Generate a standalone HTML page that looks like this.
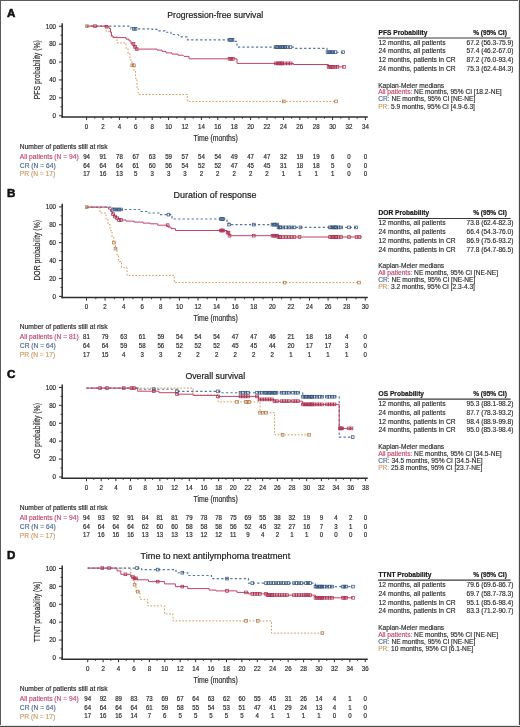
<!DOCTYPE html><html><head><meta charset="utf-8"><style>html,body{margin:0;padding:0;background:#fff;}svg{display:block;will-change:transform;}text{font-family:"Liberation Sans",sans-serif;}</style></head><body>
<svg width="520" height="727" viewBox="0 0 520 727">
<rect x="0" y="0" width="520" height="727" fill="#fff"/>
<text x="6.90" y="16.50" font-size="11.6" fill="#111" font-weight="bold" stroke="#111" stroke-width="0.55">A</text>
<text x="167.30" y="17.60" font-size="8.9" fill="#222" textLength="95.89999999999998" lengthAdjust="spacingAndGlyphs" stroke="#222" stroke-width="0.2">Progression-free survival</text>
<g stroke="#2e2e2e" fill="none">
<line x1="62.2" y1="23.2" x2="62.2" y2="117.75" stroke-width="1.5"/>
<line x1="61.45" y1="117.0" x2="367.8" y2="117.0" stroke-width="1.5"/>
<line x1="59" y1="115.75" x2="62.2" y2="115.75" stroke-width="1"/>
<line x1="60.5" y1="106.80" x2="62.2" y2="106.80" stroke-width="0.9"/>
<line x1="59" y1="97.85" x2="62.2" y2="97.85" stroke-width="1"/>
<line x1="60.5" y1="88.90" x2="62.2" y2="88.90" stroke-width="0.9"/>
<line x1="59" y1="79.95" x2="62.2" y2="79.95" stroke-width="1"/>
<line x1="60.5" y1="71.00" x2="62.2" y2="71.00" stroke-width="0.9"/>
<line x1="59" y1="62.05" x2="62.2" y2="62.05" stroke-width="1"/>
<line x1="60.5" y1="53.10" x2="62.2" y2="53.10" stroke-width="0.9"/>
<line x1="59" y1="44.15" x2="62.2" y2="44.15" stroke-width="1"/>
<line x1="60.5" y1="35.20" x2="62.2" y2="35.20" stroke-width="0.9"/>
<line x1="59" y1="26.25" x2="62.2" y2="26.25" stroke-width="1"/>
<line x1="86.60" y1="117.0" x2="86.60" y2="120.0" stroke-width="1"/>
<line x1="94.80" y1="117.0" x2="94.80" y2="118.7" stroke-width="0.9"/>
<line x1="103.00" y1="117.0" x2="103.00" y2="120.0" stroke-width="1"/>
<line x1="111.20" y1="117.0" x2="111.20" y2="118.7" stroke-width="0.9"/>
<line x1="119.40" y1="117.0" x2="119.40" y2="120.0" stroke-width="1"/>
<line x1="127.60" y1="117.0" x2="127.60" y2="118.7" stroke-width="0.9"/>
<line x1="135.80" y1="117.0" x2="135.80" y2="120.0" stroke-width="1"/>
<line x1="144.00" y1="117.0" x2="144.00" y2="118.7" stroke-width="0.9"/>
<line x1="152.20" y1="117.0" x2="152.20" y2="120.0" stroke-width="1"/>
<line x1="160.40" y1="117.0" x2="160.40" y2="118.7" stroke-width="0.9"/>
<line x1="168.60" y1="117.0" x2="168.60" y2="120.0" stroke-width="1"/>
<line x1="176.80" y1="117.0" x2="176.80" y2="118.7" stroke-width="0.9"/>
<line x1="185.00" y1="117.0" x2="185.00" y2="120.0" stroke-width="1"/>
<line x1="193.20" y1="117.0" x2="193.20" y2="118.7" stroke-width="0.9"/>
<line x1="201.40" y1="117.0" x2="201.40" y2="120.0" stroke-width="1"/>
<line x1="209.60" y1="117.0" x2="209.60" y2="118.7" stroke-width="0.9"/>
<line x1="217.80" y1="117.0" x2="217.80" y2="120.0" stroke-width="1"/>
<line x1="226.00" y1="117.0" x2="226.00" y2="118.7" stroke-width="0.9"/>
<line x1="234.20" y1="117.0" x2="234.20" y2="120.0" stroke-width="1"/>
<line x1="242.40" y1="117.0" x2="242.40" y2="118.7" stroke-width="0.9"/>
<line x1="250.60" y1="117.0" x2="250.60" y2="120.0" stroke-width="1"/>
<line x1="258.80" y1="117.0" x2="258.80" y2="118.7" stroke-width="0.9"/>
<line x1="267.00" y1="117.0" x2="267.00" y2="120.0" stroke-width="1"/>
<line x1="275.20" y1="117.0" x2="275.20" y2="118.7" stroke-width="0.9"/>
<line x1="283.40" y1="117.0" x2="283.40" y2="120.0" stroke-width="1"/>
<line x1="291.60" y1="117.0" x2="291.60" y2="118.7" stroke-width="0.9"/>
<line x1="299.80" y1="117.0" x2="299.80" y2="120.0" stroke-width="1"/>
<line x1="308.00" y1="117.0" x2="308.00" y2="118.7" stroke-width="0.9"/>
<line x1="316.20" y1="117.0" x2="316.20" y2="120.0" stroke-width="1"/>
<line x1="324.40" y1="117.0" x2="324.40" y2="118.7" stroke-width="0.9"/>
<line x1="332.60" y1="117.0" x2="332.60" y2="120.0" stroke-width="1"/>
<line x1="340.80" y1="117.0" x2="340.80" y2="118.7" stroke-width="0.9"/>
<line x1="349.00" y1="117.0" x2="349.00" y2="120.0" stroke-width="1"/>
<line x1="357.20" y1="117.0" x2="357.20" y2="118.7" stroke-width="0.9"/>
<line x1="365.40" y1="117.0" x2="365.40" y2="120.0" stroke-width="1"/>
</g>
<text x="56.00" y="118.05" font-size="6.5" fill="#2b2b2b" text-anchor="end" stroke="#2b2b2b" stroke-width="0.18" transform="translate(56.00,0) scale(0.95,1) translate(-56.00,0)">0</text>
<text x="56.00" y="100.15" font-size="6.5" fill="#2b2b2b" text-anchor="end" stroke="#2b2b2b" stroke-width="0.18" transform="translate(56.00,0) scale(0.95,1) translate(-56.00,0)">20</text>
<text x="56.00" y="82.25" font-size="6.5" fill="#2b2b2b" text-anchor="end" stroke="#2b2b2b" stroke-width="0.18" transform="translate(56.00,0) scale(0.95,1) translate(-56.00,0)">40</text>
<text x="56.00" y="64.35" font-size="6.5" fill="#2b2b2b" text-anchor="end" stroke="#2b2b2b" stroke-width="0.18" transform="translate(56.00,0) scale(0.95,1) translate(-56.00,0)">60</text>
<text x="56.00" y="46.45" font-size="6.5" fill="#2b2b2b" text-anchor="end" stroke="#2b2b2b" stroke-width="0.18" transform="translate(56.00,0) scale(0.95,1) translate(-56.00,0)">80</text>
<text x="56.00" y="28.55" font-size="6.5" fill="#2b2b2b" text-anchor="end" stroke="#2b2b2b" stroke-width="0.18" transform="translate(56.00,0) scale(0.95,1) translate(-56.00,0)">100</text>
<text x="86.60" y="128.80" font-size="6.5" fill="#2b2b2b" text-anchor="middle" stroke="#2b2b2b" stroke-width="0.18" transform="translate(86.60,0) scale(0.95,1) translate(-86.60,0)">0</text>
<text x="103.00" y="128.80" font-size="6.5" fill="#2b2b2b" text-anchor="middle" stroke="#2b2b2b" stroke-width="0.18" transform="translate(103.00,0) scale(0.95,1) translate(-103.00,0)">2</text>
<text x="119.40" y="128.80" font-size="6.5" fill="#2b2b2b" text-anchor="middle" stroke="#2b2b2b" stroke-width="0.18" transform="translate(119.40,0) scale(0.95,1) translate(-119.40,0)">4</text>
<text x="135.80" y="128.80" font-size="6.5" fill="#2b2b2b" text-anchor="middle" stroke="#2b2b2b" stroke-width="0.18" transform="translate(135.80,0) scale(0.95,1) translate(-135.80,0)">6</text>
<text x="152.20" y="128.80" font-size="6.5" fill="#2b2b2b" text-anchor="middle" stroke="#2b2b2b" stroke-width="0.18" transform="translate(152.20,0) scale(0.95,1) translate(-152.20,0)">8</text>
<text x="168.60" y="128.80" font-size="6.5" fill="#2b2b2b" text-anchor="middle" stroke="#2b2b2b" stroke-width="0.18" transform="translate(168.60,0) scale(0.95,1) translate(-168.60,0)">10</text>
<text x="185.00" y="128.80" font-size="6.5" fill="#2b2b2b" text-anchor="middle" stroke="#2b2b2b" stroke-width="0.18" transform="translate(185.00,0) scale(0.95,1) translate(-185.00,0)">12</text>
<text x="201.40" y="128.80" font-size="6.5" fill="#2b2b2b" text-anchor="middle" stroke="#2b2b2b" stroke-width="0.18" transform="translate(201.40,0) scale(0.95,1) translate(-201.40,0)">14</text>
<text x="217.80" y="128.80" font-size="6.5" fill="#2b2b2b" text-anchor="middle" stroke="#2b2b2b" stroke-width="0.18" transform="translate(217.80,0) scale(0.95,1) translate(-217.80,0)">16</text>
<text x="234.20" y="128.80" font-size="6.5" fill="#2b2b2b" text-anchor="middle" stroke="#2b2b2b" stroke-width="0.18" transform="translate(234.20,0) scale(0.95,1) translate(-234.20,0)">18</text>
<text x="250.60" y="128.80" font-size="6.5" fill="#2b2b2b" text-anchor="middle" stroke="#2b2b2b" stroke-width="0.18" transform="translate(250.60,0) scale(0.95,1) translate(-250.60,0)">20</text>
<text x="267.00" y="128.80" font-size="6.5" fill="#2b2b2b" text-anchor="middle" stroke="#2b2b2b" stroke-width="0.18" transform="translate(267.00,0) scale(0.95,1) translate(-267.00,0)">22</text>
<text x="283.40" y="128.80" font-size="6.5" fill="#2b2b2b" text-anchor="middle" stroke="#2b2b2b" stroke-width="0.18" transform="translate(283.40,0) scale(0.95,1) translate(-283.40,0)">24</text>
<text x="299.80" y="128.80" font-size="6.5" fill="#2b2b2b" text-anchor="middle" stroke="#2b2b2b" stroke-width="0.18" transform="translate(299.80,0) scale(0.95,1) translate(-299.80,0)">26</text>
<text x="316.20" y="128.80" font-size="6.5" fill="#2b2b2b" text-anchor="middle" stroke="#2b2b2b" stroke-width="0.18" transform="translate(316.20,0) scale(0.95,1) translate(-316.20,0)">28</text>
<text x="332.60" y="128.80" font-size="6.5" fill="#2b2b2b" text-anchor="middle" stroke="#2b2b2b" stroke-width="0.18" transform="translate(332.60,0) scale(0.95,1) translate(-332.60,0)">30</text>
<text x="349.00" y="128.80" font-size="6.5" fill="#2b2b2b" text-anchor="middle" stroke="#2b2b2b" stroke-width="0.18" transform="translate(349.00,0) scale(0.95,1) translate(-349.00,0)">32</text>
<text x="365.40" y="128.80" font-size="6.5" fill="#2b2b2b" text-anchor="middle" stroke="#2b2b2b" stroke-width="0.18" transform="translate(365.40,0) scale(0.95,1) translate(-365.40,0)">34</text>
<text x="-29.50" y="0" font-size="9.0" fill="#2b2b2b" stroke="#2b2b2b" stroke-width="0.18" textLength="59.0" lengthAdjust="spacingAndGlyphs" transform="translate(39.6,69.70) rotate(-90)">PFS probability (%)</text>
<text x="193.50" y="140.70" font-size="8.2" fill="#2b2b2b" textLength="44.2" lengthAdjust="spacingAndGlyphs" stroke="#2b2b2b" stroke-width="0.18">Time (months)</text>
<text x="19.80" y="148.80" font-size="6.7" fill="#2b2b2b" stroke="#2b2b2b" stroke-width="0.18">Number of patients still at risk</text>
<text x="19.80" y="158.80" font-size="6.7" fill="#c64469" stroke="#c64469" stroke-width="0.15">All patients (N = 94)</text>
<text x="86.60" y="158.80" font-size="6.8" fill="#2b2b2b" text-anchor="middle" stroke="#2b2b2b" stroke-width="0.2" transform="translate(86.60,0) scale(0.9,1) translate(-86.60,0)">94</text>
<text x="103.00" y="158.80" font-size="6.8" fill="#2b2b2b" text-anchor="middle" stroke="#2b2b2b" stroke-width="0.2" transform="translate(103.00,0) scale(0.9,1) translate(-103.00,0)">91</text>
<text x="119.40" y="158.80" font-size="6.8" fill="#2b2b2b" text-anchor="middle" stroke="#2b2b2b" stroke-width="0.2" transform="translate(119.40,0) scale(0.9,1) translate(-119.40,0)">78</text>
<text x="135.80" y="158.80" font-size="6.8" fill="#2b2b2b" text-anchor="middle" stroke="#2b2b2b" stroke-width="0.2" transform="translate(135.80,0) scale(0.9,1) translate(-135.80,0)">67</text>
<text x="152.20" y="158.80" font-size="6.8" fill="#2b2b2b" text-anchor="middle" stroke="#2b2b2b" stroke-width="0.2" transform="translate(152.20,0) scale(0.9,1) translate(-152.20,0)">63</text>
<text x="168.60" y="158.80" font-size="6.8" fill="#2b2b2b" text-anchor="middle" stroke="#2b2b2b" stroke-width="0.2" transform="translate(168.60,0) scale(0.9,1) translate(-168.60,0)">59</text>
<text x="185.00" y="158.80" font-size="6.8" fill="#2b2b2b" text-anchor="middle" stroke="#2b2b2b" stroke-width="0.2" transform="translate(185.00,0) scale(0.9,1) translate(-185.00,0)">57</text>
<text x="201.40" y="158.80" font-size="6.8" fill="#2b2b2b" text-anchor="middle" stroke="#2b2b2b" stroke-width="0.2" transform="translate(201.40,0) scale(0.9,1) translate(-201.40,0)">54</text>
<text x="217.80" y="158.80" font-size="6.8" fill="#2b2b2b" text-anchor="middle" stroke="#2b2b2b" stroke-width="0.2" transform="translate(217.80,0) scale(0.9,1) translate(-217.80,0)">54</text>
<text x="234.20" y="158.80" font-size="6.8" fill="#2b2b2b" text-anchor="middle" stroke="#2b2b2b" stroke-width="0.2" transform="translate(234.20,0) scale(0.9,1) translate(-234.20,0)">49</text>
<text x="250.60" y="158.80" font-size="6.8" fill="#2b2b2b" text-anchor="middle" stroke="#2b2b2b" stroke-width="0.2" transform="translate(250.60,0) scale(0.9,1) translate(-250.60,0)">47</text>
<text x="267.00" y="158.80" font-size="6.8" fill="#2b2b2b" text-anchor="middle" stroke="#2b2b2b" stroke-width="0.2" transform="translate(267.00,0) scale(0.9,1) translate(-267.00,0)">47</text>
<text x="283.40" y="158.80" font-size="6.8" fill="#2b2b2b" text-anchor="middle" stroke="#2b2b2b" stroke-width="0.2" transform="translate(283.40,0) scale(0.9,1) translate(-283.40,0)">32</text>
<text x="299.80" y="158.80" font-size="6.8" fill="#2b2b2b" text-anchor="middle" stroke="#2b2b2b" stroke-width="0.2" transform="translate(299.80,0) scale(0.9,1) translate(-299.80,0)">19</text>
<text x="316.20" y="158.80" font-size="6.8" fill="#2b2b2b" text-anchor="middle" stroke="#2b2b2b" stroke-width="0.2" transform="translate(316.20,0) scale(0.9,1) translate(-316.20,0)">19</text>
<text x="332.60" y="158.80" font-size="6.8" fill="#2b2b2b" text-anchor="middle" stroke="#2b2b2b" stroke-width="0.2" transform="translate(332.60,0) scale(0.9,1) translate(-332.60,0)">6</text>
<text x="349.00" y="158.80" font-size="6.8" fill="#2b2b2b" text-anchor="middle" stroke="#2b2b2b" stroke-width="0.2" transform="translate(349.00,0) scale(0.9,1) translate(-349.00,0)">0</text>
<text x="365.40" y="158.80" font-size="6.8" fill="#2b2b2b" text-anchor="middle" stroke="#2b2b2b" stroke-width="0.2" transform="translate(365.40,0) scale(0.9,1) translate(-365.40,0)">0</text>
<text x="19.80" y="167.60" font-size="6.7" fill="#486893" stroke="#486893" stroke-width="0.15">CR (N = 64)</text>
<text x="86.60" y="167.60" font-size="6.8" fill="#2b2b2b" text-anchor="middle" stroke="#2b2b2b" stroke-width="0.2" transform="translate(86.60,0) scale(0.9,1) translate(-86.60,0)">64</text>
<text x="103.00" y="167.60" font-size="6.8" fill="#2b2b2b" text-anchor="middle" stroke="#2b2b2b" stroke-width="0.2" transform="translate(103.00,0) scale(0.9,1) translate(-103.00,0)">64</text>
<text x="119.40" y="167.60" font-size="6.8" fill="#2b2b2b" text-anchor="middle" stroke="#2b2b2b" stroke-width="0.2" transform="translate(119.40,0) scale(0.9,1) translate(-119.40,0)">64</text>
<text x="135.80" y="167.60" font-size="6.8" fill="#2b2b2b" text-anchor="middle" stroke="#2b2b2b" stroke-width="0.2" transform="translate(135.80,0) scale(0.9,1) translate(-135.80,0)">61</text>
<text x="152.20" y="167.60" font-size="6.8" fill="#2b2b2b" text-anchor="middle" stroke="#2b2b2b" stroke-width="0.2" transform="translate(152.20,0) scale(0.9,1) translate(-152.20,0)">60</text>
<text x="168.60" y="167.60" font-size="6.8" fill="#2b2b2b" text-anchor="middle" stroke="#2b2b2b" stroke-width="0.2" transform="translate(168.60,0) scale(0.9,1) translate(-168.60,0)">56</text>
<text x="185.00" y="167.60" font-size="6.8" fill="#2b2b2b" text-anchor="middle" stroke="#2b2b2b" stroke-width="0.2" transform="translate(185.00,0) scale(0.9,1) translate(-185.00,0)">54</text>
<text x="201.40" y="167.60" font-size="6.8" fill="#2b2b2b" text-anchor="middle" stroke="#2b2b2b" stroke-width="0.2" transform="translate(201.40,0) scale(0.9,1) translate(-201.40,0)">52</text>
<text x="217.80" y="167.60" font-size="6.8" fill="#2b2b2b" text-anchor="middle" stroke="#2b2b2b" stroke-width="0.2" transform="translate(217.80,0) scale(0.9,1) translate(-217.80,0)">52</text>
<text x="234.20" y="167.60" font-size="6.8" fill="#2b2b2b" text-anchor="middle" stroke="#2b2b2b" stroke-width="0.2" transform="translate(234.20,0) scale(0.9,1) translate(-234.20,0)">47</text>
<text x="250.60" y="167.60" font-size="6.8" fill="#2b2b2b" text-anchor="middle" stroke="#2b2b2b" stroke-width="0.2" transform="translate(250.60,0) scale(0.9,1) translate(-250.60,0)">45</text>
<text x="267.00" y="167.60" font-size="6.8" fill="#2b2b2b" text-anchor="middle" stroke="#2b2b2b" stroke-width="0.2" transform="translate(267.00,0) scale(0.9,1) translate(-267.00,0)">45</text>
<text x="283.40" y="167.60" font-size="6.8" fill="#2b2b2b" text-anchor="middle" stroke="#2b2b2b" stroke-width="0.2" transform="translate(283.40,0) scale(0.9,1) translate(-283.40,0)">31</text>
<text x="299.80" y="167.60" font-size="6.8" fill="#2b2b2b" text-anchor="middle" stroke="#2b2b2b" stroke-width="0.2" transform="translate(299.80,0) scale(0.9,1) translate(-299.80,0)">18</text>
<text x="316.20" y="167.60" font-size="6.8" fill="#2b2b2b" text-anchor="middle" stroke="#2b2b2b" stroke-width="0.2" transform="translate(316.20,0) scale(0.9,1) translate(-316.20,0)">18</text>
<text x="332.60" y="167.60" font-size="6.8" fill="#2b2b2b" text-anchor="middle" stroke="#2b2b2b" stroke-width="0.2" transform="translate(332.60,0) scale(0.9,1) translate(-332.60,0)">5</text>
<text x="349.00" y="167.60" font-size="6.8" fill="#2b2b2b" text-anchor="middle" stroke="#2b2b2b" stroke-width="0.2" transform="translate(349.00,0) scale(0.9,1) translate(-349.00,0)">0</text>
<text x="365.40" y="167.60" font-size="6.8" fill="#2b2b2b" text-anchor="middle" stroke="#2b2b2b" stroke-width="0.2" transform="translate(365.40,0) scale(0.9,1) translate(-365.40,0)">0</text>
<text x="19.80" y="176.30" font-size="6.7" fill="#cc9963" stroke="#cc9963" stroke-width="0.15">PR (N = 17)</text>
<text x="86.60" y="176.30" font-size="6.8" fill="#2b2b2b" text-anchor="middle" stroke="#2b2b2b" stroke-width="0.2" transform="translate(86.60,0) scale(0.9,1) translate(-86.60,0)">17</text>
<text x="103.00" y="176.30" font-size="6.8" fill="#2b2b2b" text-anchor="middle" stroke="#2b2b2b" stroke-width="0.2" transform="translate(103.00,0) scale(0.9,1) translate(-103.00,0)">16</text>
<text x="119.40" y="176.30" font-size="6.8" fill="#2b2b2b" text-anchor="middle" stroke="#2b2b2b" stroke-width="0.2" transform="translate(119.40,0) scale(0.9,1) translate(-119.40,0)">13</text>
<text x="135.80" y="176.30" font-size="6.8" fill="#2b2b2b" text-anchor="middle" stroke="#2b2b2b" stroke-width="0.2" transform="translate(135.80,0) scale(0.9,1) translate(-135.80,0)">5</text>
<text x="152.20" y="176.30" font-size="6.8" fill="#2b2b2b" text-anchor="middle" stroke="#2b2b2b" stroke-width="0.2" transform="translate(152.20,0) scale(0.9,1) translate(-152.20,0)">3</text>
<text x="168.60" y="176.30" font-size="6.8" fill="#2b2b2b" text-anchor="middle" stroke="#2b2b2b" stroke-width="0.2" transform="translate(168.60,0) scale(0.9,1) translate(-168.60,0)">3</text>
<text x="185.00" y="176.30" font-size="6.8" fill="#2b2b2b" text-anchor="middle" stroke="#2b2b2b" stroke-width="0.2" transform="translate(185.00,0) scale(0.9,1) translate(-185.00,0)">3</text>
<text x="201.40" y="176.30" font-size="6.8" fill="#2b2b2b" text-anchor="middle" stroke="#2b2b2b" stroke-width="0.2" transform="translate(201.40,0) scale(0.9,1) translate(-201.40,0)">2</text>
<text x="217.80" y="176.30" font-size="6.8" fill="#2b2b2b" text-anchor="middle" stroke="#2b2b2b" stroke-width="0.2" transform="translate(217.80,0) scale(0.9,1) translate(-217.80,0)">2</text>
<text x="234.20" y="176.30" font-size="6.8" fill="#2b2b2b" text-anchor="middle" stroke="#2b2b2b" stroke-width="0.2" transform="translate(234.20,0) scale(0.9,1) translate(-234.20,0)">2</text>
<text x="250.60" y="176.30" font-size="6.8" fill="#2b2b2b" text-anchor="middle" stroke="#2b2b2b" stroke-width="0.2" transform="translate(250.60,0) scale(0.9,1) translate(-250.60,0)">2</text>
<text x="267.00" y="176.30" font-size="6.8" fill="#2b2b2b" text-anchor="middle" stroke="#2b2b2b" stroke-width="0.2" transform="translate(267.00,0) scale(0.9,1) translate(-267.00,0)">2</text>
<text x="283.40" y="176.30" font-size="6.8" fill="#2b2b2b" text-anchor="middle" stroke="#2b2b2b" stroke-width="0.2" transform="translate(283.40,0) scale(0.9,1) translate(-283.40,0)">1</text>
<text x="299.80" y="176.30" font-size="6.8" fill="#2b2b2b" text-anchor="middle" stroke="#2b2b2b" stroke-width="0.2" transform="translate(299.80,0) scale(0.9,1) translate(-299.80,0)">1</text>
<text x="316.20" y="176.30" font-size="6.8" fill="#2b2b2b" text-anchor="middle" stroke="#2b2b2b" stroke-width="0.2" transform="translate(316.20,0) scale(0.9,1) translate(-316.20,0)">1</text>
<text x="332.60" y="176.30" font-size="6.8" fill="#2b2b2b" text-anchor="middle" stroke="#2b2b2b" stroke-width="0.2" transform="translate(332.60,0) scale(0.9,1) translate(-332.60,0)">1</text>
<text x="349.00" y="176.30" font-size="6.8" fill="#2b2b2b" text-anchor="middle" stroke="#2b2b2b" stroke-width="0.2" transform="translate(349.00,0) scale(0.9,1) translate(-349.00,0)">0</text>
<text x="365.40" y="176.30" font-size="6.8" fill="#2b2b2b" text-anchor="middle" stroke="#2b2b2b" stroke-width="0.2" transform="translate(365.40,0) scale(0.9,1) translate(-365.40,0)">0</text>
<text x="378.60" y="34.70" font-size="6.6" fill="#1a1a1a" font-weight="bold" stroke="#1a1a1a" stroke-width="0.2">PFS Probability</text>
<text x="490.00" y="34.70" font-size="6.6" fill="#1a1a1a" text-anchor="middle" font-weight="bold" stroke="#1a1a1a" stroke-width="0.2">% (95% CI)</text>
<line x1="377.9" y1="37.90" x2="510.6" y2="37.90" stroke="#3a3a3a" stroke-width="1.05"/>
<text x="378.60" y="44.60" font-size="6.7" fill="#2b2b2b" stroke="#2b2b2b" stroke-width="0.15">12 months, all patients</text>
<text x="490.00" y="44.60" font-size="6.6" fill="#2b2b2b" text-anchor="middle" stroke="#2b2b2b" stroke-width="0.15">67.2 (56.3-75.9)</text>
<text x="378.60" y="53.47" font-size="6.7" fill="#2b2b2b" stroke="#2b2b2b" stroke-width="0.15">24 months, all patients</text>
<text x="490.00" y="53.47" font-size="6.6" fill="#2b2b2b" text-anchor="middle" stroke="#2b2b2b" stroke-width="0.15">57.4 (46.2-67.0)</text>
<text x="378.60" y="62.34" font-size="6.7" fill="#2b2b2b" stroke="#2b2b2b" stroke-width="0.15">12 months, patients in CR</text>
<text x="490.00" y="62.34" font-size="6.6" fill="#2b2b2b" text-anchor="middle" stroke="#2b2b2b" stroke-width="0.15">87.2 (76.0-93.4)</text>
<text x="378.60" y="71.21" font-size="6.7" fill="#2b2b2b" stroke="#2b2b2b" stroke-width="0.15">24 months, patients in CR</text>
<text x="490.00" y="71.21" font-size="6.6" fill="#2b2b2b" text-anchor="middle" stroke="#2b2b2b" stroke-width="0.15">75.3 (62.4-84.3)</text>
<text x="378.20" y="87.50" font-size="6.6" fill="#2b2b2b" stroke="#2b2b2b" stroke-width="0.15">Kaplan-Meier medians</text>
<text x="378.2" y="94.30" font-size="6.6" fill="#2b2b2b" stroke="#2b2b2b" stroke-width="0.15"><tspan fill="#c64469" stroke="#c64469">All patients:</tspan> NE months, 95% CI [18.2-NE]</text>
<text x="378.2" y="101.45" font-size="6.6" fill="#2b2b2b" stroke="#2b2b2b" stroke-width="0.15"><tspan fill="#486893" stroke="#486893">CR:</tspan> NE months, 95% CI [NE-NE]</text>
<text x="378.2" y="108.60" font-size="6.6" fill="#2b2b2b" stroke="#2b2b2b" stroke-width="0.15"><tspan fill="#cc9963" stroke="#cc9963">PR:</tspan> 5.9 months, 95% CI [4.9-6.3]</text>
<path d="M86.60,26.15 L106.00,26.15 L106.00,31.40 L111.00,31.40 L111.00,36.70 L117.00,36.70 L117.00,42.90 L126.00,42.90 L126.00,48.40 L128.00,48.40 L128.00,53.90 L130.00,53.90 L130.00,59.90 L132.00,59.90 L132.00,65.30 L134.00,65.30 L134.00,70.90 L135.50,70.90 L135.50,78.40 L137.00,78.40 L137.00,87.60 L138.20,87.60 L138.20,94.50 L187.40,94.50 L187.40,101.40 L336.00,101.40" fill="none" stroke="#d49555" stroke-width="0.95" stroke-dasharray="1.7,1.65"/>
<path d="M86.60,26.15 L131.00,26.15 L131.00,28.80 L152.00,28.80 L152.00,29.40 L159.00,29.40 L159.00,30.90 L165.00,30.90 L165.00,32.20 L171.00,32.20 L171.00,34.50 L178.00,34.50 L180.00,36.90 L187.70,36.90 L187.70,39.90 L233.00,39.90 L233.00,41.40 L237.00,41.40 L237.00,47.10 L293.50,47.10 L293.50,48.40 L327.00,48.40 L327.00,52.20 L343.00,52.20" fill="none" stroke="#5276a6" stroke-width="1.15" stroke-dasharray="2.3,2.2"/>
<path d="M86.60,26.15 L106.00,26.15 L106.00,26.70 L109.00,26.70 L109.00,28.40 L110.50,28.40 L110.50,32.20 L111.50,32.20 L111.50,35.90 L113.00,35.90 L113.00,37.60 L126.00,37.60 L126.00,39.10 L129.00,39.10 L129.00,40.90 L131.00,40.90 L131.00,43.90 L134.00,43.90 L134.00,46.90 L136.00,46.90 L136.00,49.10 L157.00,49.10 L157.00,50.10 L162.00,50.10 L162.00,51.40 L166.00,51.40 L166.00,52.90 L172.00,52.90 L172.00,54.10 L178.00,54.10 L178.00,55.20 L183.00,55.20 L184.00,56.40 L189.00,56.40 L189.00,58.80 L237.00,58.80 L237.00,63.40 L293.50,63.40 L293.50,64.50 L328.50,64.50 L328.50,66.90 L344.00,66.90" fill="none" stroke="#c44266" stroke-width="1.0"/>
<rect x="85.65" y="24.80" width="2.7" height="2.7" fill="none" stroke="#b07a48" stroke-width="0.75"/>
<rect x="130.85" y="63.95" width="2.7" height="2.7" fill="none" stroke="#b07a48" stroke-width="0.75"/>
<rect x="132.55" y="63.95" width="2.7" height="2.7" fill="none" stroke="#b07a48" stroke-width="0.75"/>
<rect x="282.45" y="100.05" width="2.7" height="2.7" fill="none" stroke="#b07a48" stroke-width="0.75"/>
<rect x="334.65" y="100.05" width="2.7" height="2.7" fill="none" stroke="#b07a48" stroke-width="0.75"/>
<rect x="132.45" y="27.45" width="2.7" height="2.7" fill="none" stroke="#34547e" stroke-width="0.75"/>
<rect x="134.15" y="27.45" width="2.7" height="2.7" fill="none" stroke="#34547e" stroke-width="0.75"/>
<rect x="228.15" y="38.55" width="2.7" height="2.7" fill="none" stroke="#34547e" stroke-width="0.75"/>
<rect x="229.65" y="38.55" width="2.7" height="2.7" fill="none" stroke="#34547e" stroke-width="0.75"/>
<rect x="231.15" y="38.55" width="2.7" height="2.7" fill="none" stroke="#34547e" stroke-width="0.75"/>
<rect x="274.15" y="45.75" width="2.7" height="2.7" fill="none" stroke="#34547e" stroke-width="0.75"/>
<rect x="275.65" y="45.75" width="2.7" height="2.7" fill="none" stroke="#34547e" stroke-width="0.75"/>
<rect x="277.15" y="45.75" width="2.7" height="2.7" fill="none" stroke="#34547e" stroke-width="0.75"/>
<rect x="278.65" y="45.75" width="2.7" height="2.7" fill="none" stroke="#34547e" stroke-width="0.75"/>
<rect x="280.15" y="45.75" width="2.7" height="2.7" fill="none" stroke="#34547e" stroke-width="0.75"/>
<rect x="281.65" y="45.75" width="2.7" height="2.7" fill="none" stroke="#34547e" stroke-width="0.75"/>
<rect x="283.15" y="45.75" width="2.7" height="2.7" fill="none" stroke="#34547e" stroke-width="0.75"/>
<rect x="283.65" y="45.75" width="2.7" height="2.7" fill="none" stroke="#34547e" stroke-width="0.75"/>
<rect x="286.35" y="45.75" width="2.7" height="2.7" fill="none" stroke="#34547e" stroke-width="0.75"/>
<rect x="289.05" y="45.75" width="2.7" height="2.7" fill="none" stroke="#34547e" stroke-width="0.75"/>
<rect x="326.15" y="50.85" width="2.7" height="2.7" fill="none" stroke="#34547e" stroke-width="0.75"/>
<rect x="327.65" y="50.85" width="2.7" height="2.7" fill="none" stroke="#34547e" stroke-width="0.75"/>
<rect x="329.15" y="50.85" width="2.7" height="2.7" fill="none" stroke="#34547e" stroke-width="0.75"/>
<rect x="330.65" y="50.85" width="2.7" height="2.7" fill="none" stroke="#34547e" stroke-width="0.75"/>
<rect x="331.65" y="50.85" width="2.7" height="2.7" fill="none" stroke="#34547e" stroke-width="0.75"/>
<rect x="334.15" y="50.85" width="2.7" height="2.7" fill="none" stroke="#34547e" stroke-width="0.75"/>
<rect x="341.65" y="50.85" width="2.7" height="2.7" fill="none" stroke="#34547e" stroke-width="0.75"/>
<rect x="93.65" y="24.80" width="2.7" height="2.7" fill="none" stroke="#aa3050" stroke-width="0.75"/>
<rect x="105.15" y="25.35" width="2.7" height="2.7" fill="none" stroke="#aa3050" stroke-width="0.75"/>
<rect x="132.15" y="42.55" width="2.7" height="2.7" fill="none" stroke="#aa3050" stroke-width="0.75"/>
<rect x="133.75" y="45.55" width="2.7" height="2.7" fill="none" stroke="#aa3050" stroke-width="0.75"/>
<rect x="135.35" y="47.75" width="2.7" height="2.7" fill="none" stroke="#aa3050" stroke-width="0.75"/>
<rect x="228.15" y="57.45" width="2.7" height="2.7" fill="none" stroke="#aa3050" stroke-width="0.75"/>
<rect x="229.85" y="57.45" width="2.7" height="2.7" fill="none" stroke="#aa3050" stroke-width="0.75"/>
<rect x="231.55" y="57.45" width="2.7" height="2.7" fill="none" stroke="#aa3050" stroke-width="0.75"/>
<rect x="274.65" y="62.05" width="2.7" height="2.7" fill="none" stroke="#aa3050" stroke-width="0.75"/>
<rect x="276.15" y="62.05" width="2.7" height="2.7" fill="none" stroke="#aa3050" stroke-width="0.75"/>
<rect x="277.65" y="62.05" width="2.7" height="2.7" fill="none" stroke="#aa3050" stroke-width="0.75"/>
<rect x="279.15" y="62.05" width="2.7" height="2.7" fill="none" stroke="#aa3050" stroke-width="0.75"/>
<rect x="280.65" y="62.05" width="2.7" height="2.7" fill="none" stroke="#aa3050" stroke-width="0.75"/>
<rect x="280.65" y="62.05" width="2.7" height="2.7" fill="none" stroke="#aa3050" stroke-width="0.75"/>
<rect x="283.55" y="62.05" width="2.7" height="2.7" fill="none" stroke="#aa3050" stroke-width="0.75"/>
<rect x="286.45" y="62.05" width="2.7" height="2.7" fill="none" stroke="#aa3050" stroke-width="0.75"/>
<rect x="289.35" y="62.05" width="2.7" height="2.7" fill="none" stroke="#aa3050" stroke-width="0.75"/>
<rect x="327.25" y="65.55" width="2.7" height="2.7" fill="none" stroke="#aa3050" stroke-width="0.75"/>
<rect x="328.75" y="65.55" width="2.7" height="2.7" fill="none" stroke="#aa3050" stroke-width="0.75"/>
<rect x="330.25" y="65.55" width="2.7" height="2.7" fill="none" stroke="#aa3050" stroke-width="0.75"/>
<rect x="331.65" y="65.55" width="2.7" height="2.7" fill="none" stroke="#aa3050" stroke-width="0.75"/>
<rect x="333.85" y="65.55" width="2.7" height="2.7" fill="none" stroke="#aa3050" stroke-width="0.75"/>
<rect x="336.05" y="65.55" width="2.7" height="2.7" fill="none" stroke="#aa3050" stroke-width="0.75"/>
<rect x="342.65" y="65.55" width="2.7" height="2.7" fill="none" stroke="#aa3050" stroke-width="0.75"/>
<text x="6.90" y="197.10" font-size="11.6" fill="#111" font-weight="bold" stroke="#111" stroke-width="0.55">B</text>
<text x="173.60" y="198.20" font-size="8.9" fill="#222" textLength="82.79999999999998" lengthAdjust="spacingAndGlyphs" stroke="#222" stroke-width="0.2">Duration of response</text>
<g stroke="#2e2e2e" fill="none">
<line x1="62.2" y1="203.79999999999998" x2="62.2" y2="298.35" stroke-width="1.5"/>
<line x1="61.45" y1="297.6" x2="367.8" y2="297.6" stroke-width="1.5"/>
<line x1="59" y1="296.35" x2="62.2" y2="296.35" stroke-width="1"/>
<line x1="60.5" y1="287.40" x2="62.2" y2="287.40" stroke-width="0.9"/>
<line x1="59" y1="278.45" x2="62.2" y2="278.45" stroke-width="1"/>
<line x1="60.5" y1="269.50" x2="62.2" y2="269.50" stroke-width="0.9"/>
<line x1="59" y1="260.55" x2="62.2" y2="260.55" stroke-width="1"/>
<line x1="60.5" y1="251.60" x2="62.2" y2="251.60" stroke-width="0.9"/>
<line x1="59" y1="242.65" x2="62.2" y2="242.65" stroke-width="1"/>
<line x1="60.5" y1="233.70" x2="62.2" y2="233.70" stroke-width="0.9"/>
<line x1="59" y1="224.75" x2="62.2" y2="224.75" stroke-width="1"/>
<line x1="60.5" y1="215.80" x2="62.2" y2="215.80" stroke-width="0.9"/>
<line x1="59" y1="206.85" x2="62.2" y2="206.85" stroke-width="1"/>
<line x1="86.50" y1="297.6" x2="86.50" y2="300.6" stroke-width="1"/>
<line x1="95.79" y1="297.6" x2="95.79" y2="299.3" stroke-width="0.9"/>
<line x1="105.08" y1="297.6" x2="105.08" y2="300.6" stroke-width="1"/>
<line x1="114.38" y1="297.6" x2="114.38" y2="299.3" stroke-width="0.9"/>
<line x1="123.67" y1="297.6" x2="123.67" y2="300.6" stroke-width="1"/>
<line x1="132.96" y1="297.6" x2="132.96" y2="299.3" stroke-width="0.9"/>
<line x1="142.25" y1="297.6" x2="142.25" y2="300.6" stroke-width="1"/>
<line x1="151.54" y1="297.6" x2="151.54" y2="299.3" stroke-width="0.9"/>
<line x1="160.83" y1="297.6" x2="160.83" y2="300.6" stroke-width="1"/>
<line x1="170.12" y1="297.6" x2="170.12" y2="299.3" stroke-width="0.9"/>
<line x1="179.42" y1="297.6" x2="179.42" y2="300.6" stroke-width="1"/>
<line x1="188.71" y1="297.6" x2="188.71" y2="299.3" stroke-width="0.9"/>
<line x1="198.00" y1="297.6" x2="198.00" y2="300.6" stroke-width="1"/>
<line x1="207.29" y1="297.6" x2="207.29" y2="299.3" stroke-width="0.9"/>
<line x1="216.58" y1="297.6" x2="216.58" y2="300.6" stroke-width="1"/>
<line x1="225.88" y1="297.6" x2="225.88" y2="299.3" stroke-width="0.9"/>
<line x1="235.17" y1="297.6" x2="235.17" y2="300.6" stroke-width="1"/>
<line x1="244.46" y1="297.6" x2="244.46" y2="299.3" stroke-width="0.9"/>
<line x1="253.75" y1="297.6" x2="253.75" y2="300.6" stroke-width="1"/>
<line x1="263.04" y1="297.6" x2="263.04" y2="299.3" stroke-width="0.9"/>
<line x1="272.33" y1="297.6" x2="272.33" y2="300.6" stroke-width="1"/>
<line x1="281.62" y1="297.6" x2="281.62" y2="299.3" stroke-width="0.9"/>
<line x1="290.92" y1="297.6" x2="290.92" y2="300.6" stroke-width="1"/>
<line x1="300.21" y1="297.6" x2="300.21" y2="299.3" stroke-width="0.9"/>
<line x1="309.50" y1="297.6" x2="309.50" y2="300.6" stroke-width="1"/>
<line x1="318.79" y1="297.6" x2="318.79" y2="299.3" stroke-width="0.9"/>
<line x1="328.08" y1="297.6" x2="328.08" y2="300.6" stroke-width="1"/>
<line x1="337.38" y1="297.6" x2="337.38" y2="299.3" stroke-width="0.9"/>
<line x1="346.67" y1="297.6" x2="346.67" y2="300.6" stroke-width="1"/>
<line x1="355.96" y1="297.6" x2="355.96" y2="299.3" stroke-width="0.9"/>
<line x1="365.25" y1="297.6" x2="365.25" y2="300.6" stroke-width="1"/>
</g>
<text x="56.00" y="298.65" font-size="6.5" fill="#2b2b2b" text-anchor="end" stroke="#2b2b2b" stroke-width="0.18" transform="translate(56.00,0) scale(0.95,1) translate(-56.00,0)">0</text>
<text x="56.00" y="280.75" font-size="6.5" fill="#2b2b2b" text-anchor="end" stroke="#2b2b2b" stroke-width="0.18" transform="translate(56.00,0) scale(0.95,1) translate(-56.00,0)">20</text>
<text x="56.00" y="262.85" font-size="6.5" fill="#2b2b2b" text-anchor="end" stroke="#2b2b2b" stroke-width="0.18" transform="translate(56.00,0) scale(0.95,1) translate(-56.00,0)">40</text>
<text x="56.00" y="244.95" font-size="6.5" fill="#2b2b2b" text-anchor="end" stroke="#2b2b2b" stroke-width="0.18" transform="translate(56.00,0) scale(0.95,1) translate(-56.00,0)">60</text>
<text x="56.00" y="227.05" font-size="6.5" fill="#2b2b2b" text-anchor="end" stroke="#2b2b2b" stroke-width="0.18" transform="translate(56.00,0) scale(0.95,1) translate(-56.00,0)">80</text>
<text x="56.00" y="209.15" font-size="6.5" fill="#2b2b2b" text-anchor="end" stroke="#2b2b2b" stroke-width="0.18" transform="translate(56.00,0) scale(0.95,1) translate(-56.00,0)">100</text>
<text x="86.50" y="309.40" font-size="6.5" fill="#2b2b2b" text-anchor="middle" stroke="#2b2b2b" stroke-width="0.18" transform="translate(86.50,0) scale(0.95,1) translate(-86.50,0)">0</text>
<text x="105.08" y="309.40" font-size="6.5" fill="#2b2b2b" text-anchor="middle" stroke="#2b2b2b" stroke-width="0.18" transform="translate(105.08,0) scale(0.95,1) translate(-105.08,0)">2</text>
<text x="123.67" y="309.40" font-size="6.5" fill="#2b2b2b" text-anchor="middle" stroke="#2b2b2b" stroke-width="0.18" transform="translate(123.67,0) scale(0.95,1) translate(-123.67,0)">4</text>
<text x="142.25" y="309.40" font-size="6.5" fill="#2b2b2b" text-anchor="middle" stroke="#2b2b2b" stroke-width="0.18" transform="translate(142.25,0) scale(0.95,1) translate(-142.25,0)">6</text>
<text x="160.83" y="309.40" font-size="6.5" fill="#2b2b2b" text-anchor="middle" stroke="#2b2b2b" stroke-width="0.18" transform="translate(160.83,0) scale(0.95,1) translate(-160.83,0)">8</text>
<text x="179.42" y="309.40" font-size="6.5" fill="#2b2b2b" text-anchor="middle" stroke="#2b2b2b" stroke-width="0.18" transform="translate(179.42,0) scale(0.95,1) translate(-179.42,0)">10</text>
<text x="198.00" y="309.40" font-size="6.5" fill="#2b2b2b" text-anchor="middle" stroke="#2b2b2b" stroke-width="0.18" transform="translate(198.00,0) scale(0.95,1) translate(-198.00,0)">12</text>
<text x="216.58" y="309.40" font-size="6.5" fill="#2b2b2b" text-anchor="middle" stroke="#2b2b2b" stroke-width="0.18" transform="translate(216.58,0) scale(0.95,1) translate(-216.58,0)">14</text>
<text x="235.17" y="309.40" font-size="6.5" fill="#2b2b2b" text-anchor="middle" stroke="#2b2b2b" stroke-width="0.18" transform="translate(235.17,0) scale(0.95,1) translate(-235.17,0)">16</text>
<text x="253.75" y="309.40" font-size="6.5" fill="#2b2b2b" text-anchor="middle" stroke="#2b2b2b" stroke-width="0.18" transform="translate(253.75,0) scale(0.95,1) translate(-253.75,0)">18</text>
<text x="272.33" y="309.40" font-size="6.5" fill="#2b2b2b" text-anchor="middle" stroke="#2b2b2b" stroke-width="0.18" transform="translate(272.33,0) scale(0.95,1) translate(-272.33,0)">20</text>
<text x="290.92" y="309.40" font-size="6.5" fill="#2b2b2b" text-anchor="middle" stroke="#2b2b2b" stroke-width="0.18" transform="translate(290.92,0) scale(0.95,1) translate(-290.92,0)">22</text>
<text x="309.50" y="309.40" font-size="6.5" fill="#2b2b2b" text-anchor="middle" stroke="#2b2b2b" stroke-width="0.18" transform="translate(309.50,0) scale(0.95,1) translate(-309.50,0)">24</text>
<text x="328.08" y="309.40" font-size="6.5" fill="#2b2b2b" text-anchor="middle" stroke="#2b2b2b" stroke-width="0.18" transform="translate(328.08,0) scale(0.95,1) translate(-328.08,0)">26</text>
<text x="346.67" y="309.40" font-size="6.5" fill="#2b2b2b" text-anchor="middle" stroke="#2b2b2b" stroke-width="0.18" transform="translate(346.67,0) scale(0.95,1) translate(-346.67,0)">28</text>
<text x="365.25" y="309.40" font-size="6.5" fill="#2b2b2b" text-anchor="middle" stroke="#2b2b2b" stroke-width="0.18" transform="translate(365.25,0) scale(0.95,1) translate(-365.25,0)">30</text>
<text x="-30.25" y="0" font-size="9.0" fill="#2b2b2b" stroke="#2b2b2b" stroke-width="0.18" textLength="60.5" lengthAdjust="spacingAndGlyphs" transform="translate(39.6,250.30) rotate(-90)">DOR probability (%)</text>
<text x="193.50" y="321.30" font-size="8.2" fill="#2b2b2b" textLength="44.2" lengthAdjust="spacingAndGlyphs" stroke="#2b2b2b" stroke-width="0.18">Time (months)</text>
<text x="19.80" y="329.40" font-size="6.7" fill="#2b2b2b" stroke="#2b2b2b" stroke-width="0.18">Number of patients still at risk</text>
<text x="19.80" y="339.40" font-size="6.7" fill="#c64469" stroke="#c64469" stroke-width="0.15">All patients (N = 81)</text>
<text x="86.50" y="339.40" font-size="6.8" fill="#2b2b2b" text-anchor="middle" stroke="#2b2b2b" stroke-width="0.2" transform="translate(86.50,0) scale(0.9,1) translate(-86.50,0)">81</text>
<text x="105.08" y="339.40" font-size="6.8" fill="#2b2b2b" text-anchor="middle" stroke="#2b2b2b" stroke-width="0.2" transform="translate(105.08,0) scale(0.9,1) translate(-105.08,0)">79</text>
<text x="123.67" y="339.40" font-size="6.8" fill="#2b2b2b" text-anchor="middle" stroke="#2b2b2b" stroke-width="0.2" transform="translate(123.67,0) scale(0.9,1) translate(-123.67,0)">63</text>
<text x="142.25" y="339.40" font-size="6.8" fill="#2b2b2b" text-anchor="middle" stroke="#2b2b2b" stroke-width="0.2" transform="translate(142.25,0) scale(0.9,1) translate(-142.25,0)">61</text>
<text x="160.83" y="339.40" font-size="6.8" fill="#2b2b2b" text-anchor="middle" stroke="#2b2b2b" stroke-width="0.2" transform="translate(160.83,0) scale(0.9,1) translate(-160.83,0)">59</text>
<text x="179.42" y="339.40" font-size="6.8" fill="#2b2b2b" text-anchor="middle" stroke="#2b2b2b" stroke-width="0.2" transform="translate(179.42,0) scale(0.9,1) translate(-179.42,0)">54</text>
<text x="198.00" y="339.40" font-size="6.8" fill="#2b2b2b" text-anchor="middle" stroke="#2b2b2b" stroke-width="0.2" transform="translate(198.00,0) scale(0.9,1) translate(-198.00,0)">54</text>
<text x="216.58" y="339.40" font-size="6.8" fill="#2b2b2b" text-anchor="middle" stroke="#2b2b2b" stroke-width="0.2" transform="translate(216.58,0) scale(0.9,1) translate(-216.58,0)">54</text>
<text x="235.17" y="339.40" font-size="6.8" fill="#2b2b2b" text-anchor="middle" stroke="#2b2b2b" stroke-width="0.2" transform="translate(235.17,0) scale(0.9,1) translate(-235.17,0)">47</text>
<text x="253.75" y="339.40" font-size="6.8" fill="#2b2b2b" text-anchor="middle" stroke="#2b2b2b" stroke-width="0.2" transform="translate(253.75,0) scale(0.9,1) translate(-253.75,0)">47</text>
<text x="272.33" y="339.40" font-size="6.8" fill="#2b2b2b" text-anchor="middle" stroke="#2b2b2b" stroke-width="0.2" transform="translate(272.33,0) scale(0.9,1) translate(-272.33,0)">46</text>
<text x="290.92" y="339.40" font-size="6.8" fill="#2b2b2b" text-anchor="middle" stroke="#2b2b2b" stroke-width="0.2" transform="translate(290.92,0) scale(0.9,1) translate(-290.92,0)">21</text>
<text x="309.50" y="339.40" font-size="6.8" fill="#2b2b2b" text-anchor="middle" stroke="#2b2b2b" stroke-width="0.2" transform="translate(309.50,0) scale(0.9,1) translate(-309.50,0)">18</text>
<text x="328.08" y="339.40" font-size="6.8" fill="#2b2b2b" text-anchor="middle" stroke="#2b2b2b" stroke-width="0.2" transform="translate(328.08,0) scale(0.9,1) translate(-328.08,0)">18</text>
<text x="346.67" y="339.40" font-size="6.8" fill="#2b2b2b" text-anchor="middle" stroke="#2b2b2b" stroke-width="0.2" transform="translate(346.67,0) scale(0.9,1) translate(-346.67,0)">4</text>
<text x="365.25" y="339.40" font-size="6.8" fill="#2b2b2b" text-anchor="middle" stroke="#2b2b2b" stroke-width="0.2" transform="translate(365.25,0) scale(0.9,1) translate(-365.25,0)">0</text>
<text x="19.80" y="348.20" font-size="6.7" fill="#486893" stroke="#486893" stroke-width="0.15">CR (N = 64)</text>
<text x="86.50" y="348.20" font-size="6.8" fill="#2b2b2b" text-anchor="middle" stroke="#2b2b2b" stroke-width="0.2" transform="translate(86.50,0) scale(0.9,1) translate(-86.50,0)">64</text>
<text x="105.08" y="348.20" font-size="6.8" fill="#2b2b2b" text-anchor="middle" stroke="#2b2b2b" stroke-width="0.2" transform="translate(105.08,0) scale(0.9,1) translate(-105.08,0)">64</text>
<text x="123.67" y="348.20" font-size="6.8" fill="#2b2b2b" text-anchor="middle" stroke="#2b2b2b" stroke-width="0.2" transform="translate(123.67,0) scale(0.9,1) translate(-123.67,0)">59</text>
<text x="142.25" y="348.20" font-size="6.8" fill="#2b2b2b" text-anchor="middle" stroke="#2b2b2b" stroke-width="0.2" transform="translate(142.25,0) scale(0.9,1) translate(-142.25,0)">58</text>
<text x="160.83" y="348.20" font-size="6.8" fill="#2b2b2b" text-anchor="middle" stroke="#2b2b2b" stroke-width="0.2" transform="translate(160.83,0) scale(0.9,1) translate(-160.83,0)">56</text>
<text x="179.42" y="348.20" font-size="6.8" fill="#2b2b2b" text-anchor="middle" stroke="#2b2b2b" stroke-width="0.2" transform="translate(179.42,0) scale(0.9,1) translate(-179.42,0)">52</text>
<text x="198.00" y="348.20" font-size="6.8" fill="#2b2b2b" text-anchor="middle" stroke="#2b2b2b" stroke-width="0.2" transform="translate(198.00,0) scale(0.9,1) translate(-198.00,0)">52</text>
<text x="216.58" y="348.20" font-size="6.8" fill="#2b2b2b" text-anchor="middle" stroke="#2b2b2b" stroke-width="0.2" transform="translate(216.58,0) scale(0.9,1) translate(-216.58,0)">52</text>
<text x="235.17" y="348.20" font-size="6.8" fill="#2b2b2b" text-anchor="middle" stroke="#2b2b2b" stroke-width="0.2" transform="translate(235.17,0) scale(0.9,1) translate(-235.17,0)">45</text>
<text x="253.75" y="348.20" font-size="6.8" fill="#2b2b2b" text-anchor="middle" stroke="#2b2b2b" stroke-width="0.2" transform="translate(253.75,0) scale(0.9,1) translate(-253.75,0)">45</text>
<text x="272.33" y="348.20" font-size="6.8" fill="#2b2b2b" text-anchor="middle" stroke="#2b2b2b" stroke-width="0.2" transform="translate(272.33,0) scale(0.9,1) translate(-272.33,0)">44</text>
<text x="290.92" y="348.20" font-size="6.8" fill="#2b2b2b" text-anchor="middle" stroke="#2b2b2b" stroke-width="0.2" transform="translate(290.92,0) scale(0.9,1) translate(-290.92,0)">20</text>
<text x="309.50" y="348.20" font-size="6.8" fill="#2b2b2b" text-anchor="middle" stroke="#2b2b2b" stroke-width="0.2" transform="translate(309.50,0) scale(0.9,1) translate(-309.50,0)">17</text>
<text x="328.08" y="348.20" font-size="6.8" fill="#2b2b2b" text-anchor="middle" stroke="#2b2b2b" stroke-width="0.2" transform="translate(328.08,0) scale(0.9,1) translate(-328.08,0)">17</text>
<text x="346.67" y="348.20" font-size="6.8" fill="#2b2b2b" text-anchor="middle" stroke="#2b2b2b" stroke-width="0.2" transform="translate(346.67,0) scale(0.9,1) translate(-346.67,0)">3</text>
<text x="365.25" y="348.20" font-size="6.8" fill="#2b2b2b" text-anchor="middle" stroke="#2b2b2b" stroke-width="0.2" transform="translate(365.25,0) scale(0.9,1) translate(-365.25,0)">0</text>
<text x="19.80" y="356.90" font-size="6.7" fill="#cc9963" stroke="#cc9963" stroke-width="0.15">PR (N = 17)</text>
<text x="86.50" y="356.90" font-size="6.8" fill="#2b2b2b" text-anchor="middle" stroke="#2b2b2b" stroke-width="0.2" transform="translate(86.50,0) scale(0.9,1) translate(-86.50,0)">17</text>
<text x="105.08" y="356.90" font-size="6.8" fill="#2b2b2b" text-anchor="middle" stroke="#2b2b2b" stroke-width="0.2" transform="translate(105.08,0) scale(0.9,1) translate(-105.08,0)">15</text>
<text x="123.67" y="356.90" font-size="6.8" fill="#2b2b2b" text-anchor="middle" stroke="#2b2b2b" stroke-width="0.2" transform="translate(123.67,0) scale(0.9,1) translate(-123.67,0)">4</text>
<text x="142.25" y="356.90" font-size="6.8" fill="#2b2b2b" text-anchor="middle" stroke="#2b2b2b" stroke-width="0.2" transform="translate(142.25,0) scale(0.9,1) translate(-142.25,0)">3</text>
<text x="160.83" y="356.90" font-size="6.8" fill="#2b2b2b" text-anchor="middle" stroke="#2b2b2b" stroke-width="0.2" transform="translate(160.83,0) scale(0.9,1) translate(-160.83,0)">3</text>
<text x="179.42" y="356.90" font-size="6.8" fill="#2b2b2b" text-anchor="middle" stroke="#2b2b2b" stroke-width="0.2" transform="translate(179.42,0) scale(0.9,1) translate(-179.42,0)">2</text>
<text x="198.00" y="356.90" font-size="6.8" fill="#2b2b2b" text-anchor="middle" stroke="#2b2b2b" stroke-width="0.2" transform="translate(198.00,0) scale(0.9,1) translate(-198.00,0)">2</text>
<text x="216.58" y="356.90" font-size="6.8" fill="#2b2b2b" text-anchor="middle" stroke="#2b2b2b" stroke-width="0.2" transform="translate(216.58,0) scale(0.9,1) translate(-216.58,0)">2</text>
<text x="235.17" y="356.90" font-size="6.8" fill="#2b2b2b" text-anchor="middle" stroke="#2b2b2b" stroke-width="0.2" transform="translate(235.17,0) scale(0.9,1) translate(-235.17,0)">2</text>
<text x="253.75" y="356.90" font-size="6.8" fill="#2b2b2b" text-anchor="middle" stroke="#2b2b2b" stroke-width="0.2" transform="translate(253.75,0) scale(0.9,1) translate(-253.75,0)">2</text>
<text x="272.33" y="356.90" font-size="6.8" fill="#2b2b2b" text-anchor="middle" stroke="#2b2b2b" stroke-width="0.2" transform="translate(272.33,0) scale(0.9,1) translate(-272.33,0)">2</text>
<text x="290.92" y="356.90" font-size="6.8" fill="#2b2b2b" text-anchor="middle" stroke="#2b2b2b" stroke-width="0.2" transform="translate(290.92,0) scale(0.9,1) translate(-290.92,0)">1</text>
<text x="309.50" y="356.90" font-size="6.8" fill="#2b2b2b" text-anchor="middle" stroke="#2b2b2b" stroke-width="0.2" transform="translate(309.50,0) scale(0.9,1) translate(-309.50,0)">1</text>
<text x="328.08" y="356.90" font-size="6.8" fill="#2b2b2b" text-anchor="middle" stroke="#2b2b2b" stroke-width="0.2" transform="translate(328.08,0) scale(0.9,1) translate(-328.08,0)">1</text>
<text x="346.67" y="356.90" font-size="6.8" fill="#2b2b2b" text-anchor="middle" stroke="#2b2b2b" stroke-width="0.2" transform="translate(346.67,0) scale(0.9,1) translate(-346.67,0)">1</text>
<text x="365.25" y="356.90" font-size="6.8" fill="#2b2b2b" text-anchor="middle" stroke="#2b2b2b" stroke-width="0.2" transform="translate(365.25,0) scale(0.9,1) translate(-365.25,0)">0</text>
<text x="378.60" y="215.30" font-size="6.6" fill="#1a1a1a" font-weight="bold" stroke="#1a1a1a" stroke-width="0.2">DOR Probability</text>
<text x="490.00" y="215.30" font-size="6.6" fill="#1a1a1a" text-anchor="middle" font-weight="bold" stroke="#1a1a1a" stroke-width="0.2">% (95% CI)</text>
<line x1="377.9" y1="218.50" x2="510.6" y2="218.50" stroke="#3a3a3a" stroke-width="1.05"/>
<text x="378.60" y="225.20" font-size="6.7" fill="#2b2b2b" stroke="#2b2b2b" stroke-width="0.15">12 months, all patients</text>
<text x="490.00" y="225.20" font-size="6.6" fill="#2b2b2b" text-anchor="middle" stroke="#2b2b2b" stroke-width="0.15">73.8 (62.4-82.3)</text>
<text x="378.60" y="234.07" font-size="6.7" fill="#2b2b2b" stroke="#2b2b2b" stroke-width="0.15">24 months, all patients</text>
<text x="490.00" y="234.07" font-size="6.6" fill="#2b2b2b" text-anchor="middle" stroke="#2b2b2b" stroke-width="0.15">66.4 (54.3-76.0)</text>
<text x="378.60" y="242.94" font-size="6.7" fill="#2b2b2b" stroke="#2b2b2b" stroke-width="0.15">12 months, patients in CR</text>
<text x="490.00" y="242.94" font-size="6.6" fill="#2b2b2b" text-anchor="middle" stroke="#2b2b2b" stroke-width="0.15">86.9 (75.6-93.2)</text>
<text x="378.60" y="251.81" font-size="6.7" fill="#2b2b2b" stroke="#2b2b2b" stroke-width="0.15">24 months, patients in CR</text>
<text x="490.00" y="251.81" font-size="6.6" fill="#2b2b2b" text-anchor="middle" stroke="#2b2b2b" stroke-width="0.15">77.8 (64.7-86.5)</text>
<text x="378.20" y="268.10" font-size="6.6" fill="#2b2b2b" stroke="#2b2b2b" stroke-width="0.15">Kaplan-Meier medians</text>
<text x="378.2" y="274.90" font-size="6.6" fill="#2b2b2b" stroke="#2b2b2b" stroke-width="0.15"><tspan fill="#c64469" stroke="#c64469">All patients:</tspan> NE months, 95% CI [NE-NE]</text>
<text x="378.2" y="282.05" font-size="6.6" fill="#2b2b2b" stroke="#2b2b2b" stroke-width="0.15"><tspan fill="#486893" stroke="#486893">CR:</tspan> NE months, 95% CI [NE-NE]</text>
<text x="378.2" y="289.20" font-size="6.6" fill="#2b2b2b" stroke="#2b2b2b" stroke-width="0.15"><tspan fill="#cc9963" stroke="#cc9963">PR:</tspan> 3.2 months, 95% CI [2.3-4.3]</text>
<path d="M86.50,207.10 L100.00,207.10 L100.00,213.00 L106.00,213.00 L106.00,219.10 L108.00,219.10 L108.00,224.60 L110.00,224.60 L110.00,230.60 L112.00,230.60 L112.00,237.00 L113.80,237.00 L113.80,242.60 L115.50,242.60 L115.50,248.60 L117.00,248.60 L117.00,255.00 L118.50,255.00 L118.50,261.50 L121.50,261.50 L121.50,267.70 L127.00,267.70 L127.00,275.40 L174.30,275.40 L174.30,282.60 L359.00,282.60" fill="none" stroke="#d49555" stroke-width="0.95" stroke-dasharray="1.7,1.65"/>
<path d="M86.50,207.10 L113.00,207.10 L113.00,209.50 L140.80,209.50 L140.80,211.50 L147.70,211.50 L147.70,213.00 L159.00,213.00 L159.00,214.60 L172.00,214.60 L172.00,219.00 L227.00,219.00 L227.00,223.00 L229.00,223.00 L229.00,224.60 L278.50,224.60 L278.50,227.40 L356.00,227.40" fill="none" stroke="#5276a6" stroke-width="1.15" stroke-dasharray="2.3,2.2"/>
<path d="M86.50,207.10 L108.50,207.10 L108.50,209.10 L110.50,209.10 L110.50,211.60 L112.50,211.60 L112.50,214.10 L114.50,214.10 L114.50,216.60 L116.50,216.60 L116.50,218.10 L119.00,218.10 L119.00,220.00 L126.00,220.00 L126.00,221.10 L134.00,221.10 L134.00,222.10 L143.00,222.10 L143.00,223.10 L150.00,223.10 L150.00,223.80 L157.70,223.80 L157.70,225.20 L168.00,225.20 L168.00,227.10 L171.00,227.10 L171.00,228.60 L175.40,228.60 L175.40,230.50 L227.00,230.50 L227.00,232.60 L229.00,232.60 L229.00,235.70 L278.00,235.70 L278.00,237.00 L362.00,237.00" fill="none" stroke="#c44266" stroke-width="1.0"/>
<rect x="85.35" y="205.75" width="2.7" height="2.7" fill="none" stroke="#b07a48" stroke-width="0.75"/>
<rect x="112.45" y="241.25" width="2.7" height="2.7" fill="none" stroke="#b07a48" stroke-width="0.75"/>
<rect x="114.15" y="247.25" width="2.7" height="2.7" fill="none" stroke="#b07a48" stroke-width="0.75"/>
<rect x="283.25" y="281.25" width="2.7" height="2.7" fill="none" stroke="#b07a48" stroke-width="0.75"/>
<rect x="357.65" y="281.25" width="2.7" height="2.7" fill="none" stroke="#b07a48" stroke-width="0.75"/>
<rect x="111.65" y="208.15" width="2.7" height="2.7" fill="none" stroke="#34547e" stroke-width="0.75"/>
<rect x="113.65" y="208.15" width="2.7" height="2.7" fill="none" stroke="#34547e" stroke-width="0.75"/>
<rect x="115.65" y="208.15" width="2.7" height="2.7" fill="none" stroke="#34547e" stroke-width="0.75"/>
<rect x="117.65" y="208.15" width="2.7" height="2.7" fill="none" stroke="#34547e" stroke-width="0.75"/>
<rect x="119.65" y="208.15" width="2.7" height="2.7" fill="none" stroke="#34547e" stroke-width="0.75"/>
<rect x="167.15" y="213.25" width="2.7" height="2.7" fill="none" stroke="#34547e" stroke-width="0.75"/>
<rect x="219.65" y="217.65" width="2.7" height="2.7" fill="none" stroke="#34547e" stroke-width="0.75"/>
<rect x="220.65" y="217.65" width="2.7" height="2.7" fill="none" stroke="#34547e" stroke-width="0.75"/>
<rect x="221.65" y="217.65" width="2.7" height="2.7" fill="none" stroke="#34547e" stroke-width="0.75"/>
<rect x="227.65" y="223.25" width="2.7" height="2.7" fill="none" stroke="#34547e" stroke-width="0.75"/>
<rect x="252.45" y="223.25" width="2.7" height="2.7" fill="none" stroke="#34547e" stroke-width="0.75"/>
<rect x="271.15" y="223.25" width="2.7" height="2.7" fill="none" stroke="#34547e" stroke-width="0.75"/>
<rect x="272.65" y="223.25" width="2.7" height="2.7" fill="none" stroke="#34547e" stroke-width="0.75"/>
<rect x="274.15" y="223.25" width="2.7" height="2.7" fill="none" stroke="#34547e" stroke-width="0.75"/>
<rect x="275.65" y="223.25" width="2.7" height="2.7" fill="none" stroke="#34547e" stroke-width="0.75"/>
<rect x="277.15" y="226.05" width="2.7" height="2.7" fill="none" stroke="#34547e" stroke-width="0.75"/>
<rect x="278.65" y="226.05" width="2.7" height="2.7" fill="none" stroke="#34547e" stroke-width="0.75"/>
<rect x="278.65" y="226.05" width="2.7" height="2.7" fill="none" stroke="#34547e" stroke-width="0.75"/>
<rect x="281.55" y="226.05" width="2.7" height="2.7" fill="none" stroke="#34547e" stroke-width="0.75"/>
<rect x="284.45" y="226.05" width="2.7" height="2.7" fill="none" stroke="#34547e" stroke-width="0.75"/>
<rect x="287.35" y="226.05" width="2.7" height="2.7" fill="none" stroke="#34547e" stroke-width="0.75"/>
<rect x="290.25" y="226.05" width="2.7" height="2.7" fill="none" stroke="#34547e" stroke-width="0.75"/>
<rect x="293.15" y="226.05" width="2.7" height="2.7" fill="none" stroke="#34547e" stroke-width="0.75"/>
<rect x="299.15" y="226.05" width="2.7" height="2.7" fill="none" stroke="#34547e" stroke-width="0.75"/>
<rect x="328.65" y="226.05" width="2.7" height="2.7" fill="none" stroke="#34547e" stroke-width="0.75"/>
<rect x="330.15" y="226.05" width="2.7" height="2.7" fill="none" stroke="#34547e" stroke-width="0.75"/>
<rect x="331.65" y="226.05" width="2.7" height="2.7" fill="none" stroke="#34547e" stroke-width="0.75"/>
<rect x="333.15" y="226.05" width="2.7" height="2.7" fill="none" stroke="#34547e" stroke-width="0.75"/>
<rect x="334.65" y="226.05" width="2.7" height="2.7" fill="none" stroke="#34547e" stroke-width="0.75"/>
<rect x="334.65" y="226.05" width="2.7" height="2.7" fill="none" stroke="#34547e" stroke-width="0.75"/>
<rect x="337.15" y="226.05" width="2.7" height="2.7" fill="none" stroke="#34547e" stroke-width="0.75"/>
<rect x="339.65" y="226.05" width="2.7" height="2.7" fill="none" stroke="#34547e" stroke-width="0.75"/>
<rect x="347.65" y="226.05" width="2.7" height="2.7" fill="none" stroke="#34547e" stroke-width="0.75"/>
<rect x="354.65" y="226.05" width="2.7" height="2.7" fill="none" stroke="#34547e" stroke-width="0.75"/>
<rect x="111.65" y="212.75" width="2.7" height="2.7" fill="none" stroke="#aa3050" stroke-width="0.75"/>
<rect x="113.65" y="215.25" width="2.7" height="2.7" fill="none" stroke="#aa3050" stroke-width="0.75"/>
<rect x="115.65" y="216.75" width="2.7" height="2.7" fill="none" stroke="#aa3050" stroke-width="0.75"/>
<rect x="117.65" y="218.65" width="2.7" height="2.7" fill="none" stroke="#aa3050" stroke-width="0.75"/>
<rect x="119.65" y="218.65" width="2.7" height="2.7" fill="none" stroke="#aa3050" stroke-width="0.75"/>
<rect x="166.35" y="223.85" width="2.7" height="2.7" fill="none" stroke="#aa3050" stroke-width="0.75"/>
<rect x="219.65" y="229.15" width="2.7" height="2.7" fill="none" stroke="#aa3050" stroke-width="0.75"/>
<rect x="220.65" y="229.15" width="2.7" height="2.7" fill="none" stroke="#aa3050" stroke-width="0.75"/>
<rect x="221.65" y="229.15" width="2.7" height="2.7" fill="none" stroke="#aa3050" stroke-width="0.75"/>
<rect x="226.15" y="231.25" width="2.7" height="2.7" fill="none" stroke="#aa3050" stroke-width="0.75"/>
<rect x="227.15" y="231.25" width="2.7" height="2.7" fill="none" stroke="#aa3050" stroke-width="0.75"/>
<rect x="228.15" y="234.35" width="2.7" height="2.7" fill="none" stroke="#aa3050" stroke-width="0.75"/>
<rect x="252.45" y="234.35" width="2.7" height="2.7" fill="none" stroke="#aa3050" stroke-width="0.75"/>
<rect x="271.15" y="234.35" width="2.7" height="2.7" fill="none" stroke="#aa3050" stroke-width="0.75"/>
<rect x="272.65" y="234.35" width="2.7" height="2.7" fill="none" stroke="#aa3050" stroke-width="0.75"/>
<rect x="274.15" y="234.35" width="2.7" height="2.7" fill="none" stroke="#aa3050" stroke-width="0.75"/>
<rect x="275.65" y="234.35" width="2.7" height="2.7" fill="none" stroke="#aa3050" stroke-width="0.75"/>
<rect x="277.15" y="235.65" width="2.7" height="2.7" fill="none" stroke="#aa3050" stroke-width="0.75"/>
<rect x="278.65" y="235.65" width="2.7" height="2.7" fill="none" stroke="#aa3050" stroke-width="0.75"/>
<rect x="278.65" y="235.65" width="2.7" height="2.7" fill="none" stroke="#aa3050" stroke-width="0.75"/>
<rect x="281.55" y="235.65" width="2.7" height="2.7" fill="none" stroke="#aa3050" stroke-width="0.75"/>
<rect x="284.45" y="235.65" width="2.7" height="2.7" fill="none" stroke="#aa3050" stroke-width="0.75"/>
<rect x="287.35" y="235.65" width="2.7" height="2.7" fill="none" stroke="#aa3050" stroke-width="0.75"/>
<rect x="290.25" y="235.65" width="2.7" height="2.7" fill="none" stroke="#aa3050" stroke-width="0.75"/>
<rect x="293.15" y="235.65" width="2.7" height="2.7" fill="none" stroke="#aa3050" stroke-width="0.75"/>
<rect x="298.15" y="235.65" width="2.7" height="2.7" fill="none" stroke="#aa3050" stroke-width="0.75"/>
<rect x="328.65" y="235.65" width="2.7" height="2.7" fill="none" stroke="#aa3050" stroke-width="0.75"/>
<rect x="330.15" y="235.65" width="2.7" height="2.7" fill="none" stroke="#aa3050" stroke-width="0.75"/>
<rect x="331.65" y="235.65" width="2.7" height="2.7" fill="none" stroke="#aa3050" stroke-width="0.75"/>
<rect x="333.15" y="235.65" width="2.7" height="2.7" fill="none" stroke="#aa3050" stroke-width="0.75"/>
<rect x="334.65" y="235.65" width="2.7" height="2.7" fill="none" stroke="#aa3050" stroke-width="0.75"/>
<rect x="334.65" y="235.65" width="2.7" height="2.7" fill="none" stroke="#aa3050" stroke-width="0.75"/>
<rect x="337.15" y="235.65" width="2.7" height="2.7" fill="none" stroke="#aa3050" stroke-width="0.75"/>
<rect x="339.65" y="235.65" width="2.7" height="2.7" fill="none" stroke="#aa3050" stroke-width="0.75"/>
<rect x="347.65" y="235.65" width="2.7" height="2.7" fill="none" stroke="#aa3050" stroke-width="0.75"/>
<rect x="355.15" y="235.65" width="2.7" height="2.7" fill="none" stroke="#aa3050" stroke-width="0.75"/>
<rect x="358.15" y="235.65" width="2.7" height="2.7" fill="none" stroke="#aa3050" stroke-width="0.75"/>
<text x="6.90" y="377.70" font-size="11.6" fill="#111" font-weight="bold" stroke="#111" stroke-width="0.55">C</text>
<text x="185.40" y="378.80" font-size="8.9" fill="#222" textLength="59.79999999999998" lengthAdjust="spacingAndGlyphs" stroke="#222" stroke-width="0.2">Overall survival</text>
<g stroke="#2e2e2e" fill="none">
<line x1="62.2" y1="384.4" x2="62.2" y2="478.95" stroke-width="1.5"/>
<line x1="61.45" y1="478.2" x2="367.8" y2="478.2" stroke-width="1.5"/>
<line x1="59" y1="476.95" x2="62.2" y2="476.95" stroke-width="1"/>
<line x1="60.5" y1="468.00" x2="62.2" y2="468.00" stroke-width="0.9"/>
<line x1="59" y1="459.05" x2="62.2" y2="459.05" stroke-width="1"/>
<line x1="60.5" y1="450.10" x2="62.2" y2="450.10" stroke-width="0.9"/>
<line x1="59" y1="441.15" x2="62.2" y2="441.15" stroke-width="1"/>
<line x1="60.5" y1="432.20" x2="62.2" y2="432.20" stroke-width="0.9"/>
<line x1="59" y1="423.25" x2="62.2" y2="423.25" stroke-width="1"/>
<line x1="60.5" y1="414.30" x2="62.2" y2="414.30" stroke-width="0.9"/>
<line x1="59" y1="405.35" x2="62.2" y2="405.35" stroke-width="1"/>
<line x1="60.5" y1="396.40" x2="62.2" y2="396.40" stroke-width="0.9"/>
<line x1="59" y1="387.45" x2="62.2" y2="387.45" stroke-width="1"/>
<line x1="86.50" y1="478.2" x2="86.50" y2="481.2" stroke-width="1"/>
<line x1="93.84" y1="478.2" x2="93.84" y2="479.9" stroke-width="0.9"/>
<line x1="101.18" y1="478.2" x2="101.18" y2="481.2" stroke-width="1"/>
<line x1="108.52" y1="478.2" x2="108.52" y2="479.9" stroke-width="0.9"/>
<line x1="115.86" y1="478.2" x2="115.86" y2="481.2" stroke-width="1"/>
<line x1="123.20" y1="478.2" x2="123.20" y2="479.9" stroke-width="0.9"/>
<line x1="130.54" y1="478.2" x2="130.54" y2="481.2" stroke-width="1"/>
<line x1="137.88" y1="478.2" x2="137.88" y2="479.9" stroke-width="0.9"/>
<line x1="145.22" y1="478.2" x2="145.22" y2="481.2" stroke-width="1"/>
<line x1="152.56" y1="478.2" x2="152.56" y2="479.9" stroke-width="0.9"/>
<line x1="159.89" y1="478.2" x2="159.89" y2="481.2" stroke-width="1"/>
<line x1="167.23" y1="478.2" x2="167.23" y2="479.9" stroke-width="0.9"/>
<line x1="174.57" y1="478.2" x2="174.57" y2="481.2" stroke-width="1"/>
<line x1="181.91" y1="478.2" x2="181.91" y2="479.9" stroke-width="0.9"/>
<line x1="189.25" y1="478.2" x2="189.25" y2="481.2" stroke-width="1"/>
<line x1="196.59" y1="478.2" x2="196.59" y2="479.9" stroke-width="0.9"/>
<line x1="203.93" y1="478.2" x2="203.93" y2="481.2" stroke-width="1"/>
<line x1="211.27" y1="478.2" x2="211.27" y2="479.9" stroke-width="0.9"/>
<line x1="218.61" y1="478.2" x2="218.61" y2="481.2" stroke-width="1"/>
<line x1="225.95" y1="478.2" x2="225.95" y2="479.9" stroke-width="0.9"/>
<line x1="233.29" y1="478.2" x2="233.29" y2="481.2" stroke-width="1"/>
<line x1="240.63" y1="478.2" x2="240.63" y2="479.9" stroke-width="0.9"/>
<line x1="247.97" y1="478.2" x2="247.97" y2="481.2" stroke-width="1"/>
<line x1="255.31" y1="478.2" x2="255.31" y2="479.9" stroke-width="0.9"/>
<line x1="262.65" y1="478.2" x2="262.65" y2="481.2" stroke-width="1"/>
<line x1="269.99" y1="478.2" x2="269.99" y2="479.9" stroke-width="0.9"/>
<line x1="277.33" y1="478.2" x2="277.33" y2="481.2" stroke-width="1"/>
<line x1="284.67" y1="478.2" x2="284.67" y2="479.9" stroke-width="0.9"/>
<line x1="292.01" y1="478.2" x2="292.01" y2="481.2" stroke-width="1"/>
<line x1="299.34" y1="478.2" x2="299.34" y2="479.9" stroke-width="0.9"/>
<line x1="306.68" y1="478.2" x2="306.68" y2="481.2" stroke-width="1"/>
<line x1="314.02" y1="478.2" x2="314.02" y2="479.9" stroke-width="0.9"/>
<line x1="321.36" y1="478.2" x2="321.36" y2="481.2" stroke-width="1"/>
<line x1="328.70" y1="478.2" x2="328.70" y2="479.9" stroke-width="0.9"/>
<line x1="336.04" y1="478.2" x2="336.04" y2="481.2" stroke-width="1"/>
<line x1="343.38" y1="478.2" x2="343.38" y2="479.9" stroke-width="0.9"/>
<line x1="350.72" y1="478.2" x2="350.72" y2="481.2" stroke-width="1"/>
<line x1="358.06" y1="478.2" x2="358.06" y2="479.9" stroke-width="0.9"/>
<line x1="365.40" y1="478.2" x2="365.40" y2="481.2" stroke-width="1"/>
</g>
<text x="56.00" y="479.25" font-size="6.5" fill="#2b2b2b" text-anchor="end" stroke="#2b2b2b" stroke-width="0.18" transform="translate(56.00,0) scale(0.95,1) translate(-56.00,0)">0</text>
<text x="56.00" y="461.35" font-size="6.5" fill="#2b2b2b" text-anchor="end" stroke="#2b2b2b" stroke-width="0.18" transform="translate(56.00,0) scale(0.95,1) translate(-56.00,0)">20</text>
<text x="56.00" y="443.45" font-size="6.5" fill="#2b2b2b" text-anchor="end" stroke="#2b2b2b" stroke-width="0.18" transform="translate(56.00,0) scale(0.95,1) translate(-56.00,0)">40</text>
<text x="56.00" y="425.55" font-size="6.5" fill="#2b2b2b" text-anchor="end" stroke="#2b2b2b" stroke-width="0.18" transform="translate(56.00,0) scale(0.95,1) translate(-56.00,0)">60</text>
<text x="56.00" y="407.65" font-size="6.5" fill="#2b2b2b" text-anchor="end" stroke="#2b2b2b" stroke-width="0.18" transform="translate(56.00,0) scale(0.95,1) translate(-56.00,0)">80</text>
<text x="56.00" y="389.75" font-size="6.5" fill="#2b2b2b" text-anchor="end" stroke="#2b2b2b" stroke-width="0.18" transform="translate(56.00,0) scale(0.95,1) translate(-56.00,0)">100</text>
<text x="86.50" y="490.00" font-size="6.5" fill="#2b2b2b" text-anchor="middle" stroke="#2b2b2b" stroke-width="0.18" transform="translate(86.50,0) scale(0.95,1) translate(-86.50,0)">0</text>
<text x="101.18" y="490.00" font-size="6.5" fill="#2b2b2b" text-anchor="middle" stroke="#2b2b2b" stroke-width="0.18" transform="translate(101.18,0) scale(0.95,1) translate(-101.18,0)">2</text>
<text x="115.86" y="490.00" font-size="6.5" fill="#2b2b2b" text-anchor="middle" stroke="#2b2b2b" stroke-width="0.18" transform="translate(115.86,0) scale(0.95,1) translate(-115.86,0)">4</text>
<text x="130.54" y="490.00" font-size="6.5" fill="#2b2b2b" text-anchor="middle" stroke="#2b2b2b" stroke-width="0.18" transform="translate(130.54,0) scale(0.95,1) translate(-130.54,0)">6</text>
<text x="145.22" y="490.00" font-size="6.5" fill="#2b2b2b" text-anchor="middle" stroke="#2b2b2b" stroke-width="0.18" transform="translate(145.22,0) scale(0.95,1) translate(-145.22,0)">8</text>
<text x="159.89" y="490.00" font-size="6.5" fill="#2b2b2b" text-anchor="middle" stroke="#2b2b2b" stroke-width="0.18" transform="translate(159.89,0) scale(0.95,1) translate(-159.89,0)">10</text>
<text x="174.57" y="490.00" font-size="6.5" fill="#2b2b2b" text-anchor="middle" stroke="#2b2b2b" stroke-width="0.18" transform="translate(174.57,0) scale(0.95,1) translate(-174.57,0)">12</text>
<text x="189.25" y="490.00" font-size="6.5" fill="#2b2b2b" text-anchor="middle" stroke="#2b2b2b" stroke-width="0.18" transform="translate(189.25,0) scale(0.95,1) translate(-189.25,0)">14</text>
<text x="203.93" y="490.00" font-size="6.5" fill="#2b2b2b" text-anchor="middle" stroke="#2b2b2b" stroke-width="0.18" transform="translate(203.93,0) scale(0.95,1) translate(-203.93,0)">16</text>
<text x="218.61" y="490.00" font-size="6.5" fill="#2b2b2b" text-anchor="middle" stroke="#2b2b2b" stroke-width="0.18" transform="translate(218.61,0) scale(0.95,1) translate(-218.61,0)">18</text>
<text x="233.29" y="490.00" font-size="6.5" fill="#2b2b2b" text-anchor="middle" stroke="#2b2b2b" stroke-width="0.18" transform="translate(233.29,0) scale(0.95,1) translate(-233.29,0)">20</text>
<text x="247.97" y="490.00" font-size="6.5" fill="#2b2b2b" text-anchor="middle" stroke="#2b2b2b" stroke-width="0.18" transform="translate(247.97,0) scale(0.95,1) translate(-247.97,0)">22</text>
<text x="262.65" y="490.00" font-size="6.5" fill="#2b2b2b" text-anchor="middle" stroke="#2b2b2b" stroke-width="0.18" transform="translate(262.65,0) scale(0.95,1) translate(-262.65,0)">24</text>
<text x="277.33" y="490.00" font-size="6.5" fill="#2b2b2b" text-anchor="middle" stroke="#2b2b2b" stroke-width="0.18" transform="translate(277.33,0) scale(0.95,1) translate(-277.33,0)">26</text>
<text x="292.01" y="490.00" font-size="6.5" fill="#2b2b2b" text-anchor="middle" stroke="#2b2b2b" stroke-width="0.18" transform="translate(292.01,0) scale(0.95,1) translate(-292.01,0)">28</text>
<text x="306.68" y="490.00" font-size="6.5" fill="#2b2b2b" text-anchor="middle" stroke="#2b2b2b" stroke-width="0.18" transform="translate(306.68,0) scale(0.95,1) translate(-306.68,0)">30</text>
<text x="321.36" y="490.00" font-size="6.5" fill="#2b2b2b" text-anchor="middle" stroke="#2b2b2b" stroke-width="0.18" transform="translate(321.36,0) scale(0.95,1) translate(-321.36,0)">32</text>
<text x="336.04" y="490.00" font-size="6.5" fill="#2b2b2b" text-anchor="middle" stroke="#2b2b2b" stroke-width="0.18" transform="translate(336.04,0) scale(0.95,1) translate(-336.04,0)">34</text>
<text x="350.72" y="490.00" font-size="6.5" fill="#2b2b2b" text-anchor="middle" stroke="#2b2b2b" stroke-width="0.18" transform="translate(350.72,0) scale(0.95,1) translate(-350.72,0)">36</text>
<text x="365.40" y="490.00" font-size="6.5" fill="#2b2b2b" text-anchor="middle" stroke="#2b2b2b" stroke-width="0.18" transform="translate(365.40,0) scale(0.95,1) translate(-365.40,0)">38</text>
<text x="-27.85" y="0" font-size="9.0" fill="#2b2b2b" stroke="#2b2b2b" stroke-width="0.18" textLength="55.7" lengthAdjust="spacingAndGlyphs" transform="translate(39.6,430.90) rotate(-90)">OS probability (%)</text>
<text x="193.50" y="501.90" font-size="8.2" fill="#2b2b2b" textLength="44.2" lengthAdjust="spacingAndGlyphs" stroke="#2b2b2b" stroke-width="0.18">Time (months)</text>
<text x="19.80" y="510.00" font-size="6.7" fill="#2b2b2b" stroke="#2b2b2b" stroke-width="0.18">Number of patients still at risk</text>
<text x="19.80" y="520.00" font-size="6.7" fill="#c64469" stroke="#c64469" stroke-width="0.15">All patients (N = 94)</text>
<text x="86.50" y="520.00" font-size="6.8" fill="#2b2b2b" text-anchor="middle" stroke="#2b2b2b" stroke-width="0.2" transform="translate(86.50,0) scale(0.9,1) translate(-86.50,0)">94</text>
<text x="101.18" y="520.00" font-size="6.8" fill="#2b2b2b" text-anchor="middle" stroke="#2b2b2b" stroke-width="0.2" transform="translate(101.18,0) scale(0.9,1) translate(-101.18,0)">93</text>
<text x="115.86" y="520.00" font-size="6.8" fill="#2b2b2b" text-anchor="middle" stroke="#2b2b2b" stroke-width="0.2" transform="translate(115.86,0) scale(0.9,1) translate(-115.86,0)">92</text>
<text x="130.54" y="520.00" font-size="6.8" fill="#2b2b2b" text-anchor="middle" stroke="#2b2b2b" stroke-width="0.2" transform="translate(130.54,0) scale(0.9,1) translate(-130.54,0)">91</text>
<text x="145.22" y="520.00" font-size="6.8" fill="#2b2b2b" text-anchor="middle" stroke="#2b2b2b" stroke-width="0.2" transform="translate(145.22,0) scale(0.9,1) translate(-145.22,0)">84</text>
<text x="159.89" y="520.00" font-size="6.8" fill="#2b2b2b" text-anchor="middle" stroke="#2b2b2b" stroke-width="0.2" transform="translate(159.89,0) scale(0.9,1) translate(-159.89,0)">81</text>
<text x="174.57" y="520.00" font-size="6.8" fill="#2b2b2b" text-anchor="middle" stroke="#2b2b2b" stroke-width="0.2" transform="translate(174.57,0) scale(0.9,1) translate(-174.57,0)">81</text>
<text x="189.25" y="520.00" font-size="6.8" fill="#2b2b2b" text-anchor="middle" stroke="#2b2b2b" stroke-width="0.2" transform="translate(189.25,0) scale(0.9,1) translate(-189.25,0)">79</text>
<text x="203.93" y="520.00" font-size="6.8" fill="#2b2b2b" text-anchor="middle" stroke="#2b2b2b" stroke-width="0.2" transform="translate(203.93,0) scale(0.9,1) translate(-203.93,0)">78</text>
<text x="218.61" y="520.00" font-size="6.8" fill="#2b2b2b" text-anchor="middle" stroke="#2b2b2b" stroke-width="0.2" transform="translate(218.61,0) scale(0.9,1) translate(-218.61,0)">78</text>
<text x="233.29" y="520.00" font-size="6.8" fill="#2b2b2b" text-anchor="middle" stroke="#2b2b2b" stroke-width="0.2" transform="translate(233.29,0) scale(0.9,1) translate(-233.29,0)">75</text>
<text x="247.97" y="520.00" font-size="6.8" fill="#2b2b2b" text-anchor="middle" stroke="#2b2b2b" stroke-width="0.2" transform="translate(247.97,0) scale(0.9,1) translate(-247.97,0)">69</text>
<text x="262.65" y="520.00" font-size="6.8" fill="#2b2b2b" text-anchor="middle" stroke="#2b2b2b" stroke-width="0.2" transform="translate(262.65,0) scale(0.9,1) translate(-262.65,0)">55</text>
<text x="277.33" y="520.00" font-size="6.8" fill="#2b2b2b" text-anchor="middle" stroke="#2b2b2b" stroke-width="0.2" transform="translate(277.33,0) scale(0.9,1) translate(-277.33,0)">38</text>
<text x="292.01" y="520.00" font-size="6.8" fill="#2b2b2b" text-anchor="middle" stroke="#2b2b2b" stroke-width="0.2" transform="translate(292.01,0) scale(0.9,1) translate(-292.01,0)">32</text>
<text x="306.68" y="520.00" font-size="6.8" fill="#2b2b2b" text-anchor="middle" stroke="#2b2b2b" stroke-width="0.2" transform="translate(306.68,0) scale(0.9,1) translate(-306.68,0)">19</text>
<text x="321.36" y="520.00" font-size="6.8" fill="#2b2b2b" text-anchor="middle" stroke="#2b2b2b" stroke-width="0.2" transform="translate(321.36,0) scale(0.9,1) translate(-321.36,0)">9</text>
<text x="336.04" y="520.00" font-size="6.8" fill="#2b2b2b" text-anchor="middle" stroke="#2b2b2b" stroke-width="0.2" transform="translate(336.04,0) scale(0.9,1) translate(-336.04,0)">4</text>
<text x="350.72" y="520.00" font-size="6.8" fill="#2b2b2b" text-anchor="middle" stroke="#2b2b2b" stroke-width="0.2" transform="translate(350.72,0) scale(0.9,1) translate(-350.72,0)">2</text>
<text x="365.40" y="520.00" font-size="6.8" fill="#2b2b2b" text-anchor="middle" stroke="#2b2b2b" stroke-width="0.2" transform="translate(365.40,0) scale(0.9,1) translate(-365.40,0)">0</text>
<text x="19.80" y="528.80" font-size="6.7" fill="#486893" stroke="#486893" stroke-width="0.15">CR (N = 64)</text>
<text x="86.50" y="528.80" font-size="6.8" fill="#2b2b2b" text-anchor="middle" stroke="#2b2b2b" stroke-width="0.2" transform="translate(86.50,0) scale(0.9,1) translate(-86.50,0)">64</text>
<text x="101.18" y="528.80" font-size="6.8" fill="#2b2b2b" text-anchor="middle" stroke="#2b2b2b" stroke-width="0.2" transform="translate(101.18,0) scale(0.9,1) translate(-101.18,0)">64</text>
<text x="115.86" y="528.80" font-size="6.8" fill="#2b2b2b" text-anchor="middle" stroke="#2b2b2b" stroke-width="0.2" transform="translate(115.86,0) scale(0.9,1) translate(-115.86,0)">64</text>
<text x="130.54" y="528.80" font-size="6.8" fill="#2b2b2b" text-anchor="middle" stroke="#2b2b2b" stroke-width="0.2" transform="translate(130.54,0) scale(0.9,1) translate(-130.54,0)">64</text>
<text x="145.22" y="528.80" font-size="6.8" fill="#2b2b2b" text-anchor="middle" stroke="#2b2b2b" stroke-width="0.2" transform="translate(145.22,0) scale(0.9,1) translate(-145.22,0)">62</text>
<text x="159.89" y="528.80" font-size="6.8" fill="#2b2b2b" text-anchor="middle" stroke="#2b2b2b" stroke-width="0.2" transform="translate(159.89,0) scale(0.9,1) translate(-159.89,0)">60</text>
<text x="174.57" y="528.80" font-size="6.8" fill="#2b2b2b" text-anchor="middle" stroke="#2b2b2b" stroke-width="0.2" transform="translate(174.57,0) scale(0.9,1) translate(-174.57,0)">60</text>
<text x="189.25" y="528.80" font-size="6.8" fill="#2b2b2b" text-anchor="middle" stroke="#2b2b2b" stroke-width="0.2" transform="translate(189.25,0) scale(0.9,1) translate(-189.25,0)">58</text>
<text x="203.93" y="528.80" font-size="6.8" fill="#2b2b2b" text-anchor="middle" stroke="#2b2b2b" stroke-width="0.2" transform="translate(203.93,0) scale(0.9,1) translate(-203.93,0)">58</text>
<text x="218.61" y="528.80" font-size="6.8" fill="#2b2b2b" text-anchor="middle" stroke="#2b2b2b" stroke-width="0.2" transform="translate(218.61,0) scale(0.9,1) translate(-218.61,0)">58</text>
<text x="233.29" y="528.80" font-size="6.8" fill="#2b2b2b" text-anchor="middle" stroke="#2b2b2b" stroke-width="0.2" transform="translate(233.29,0) scale(0.9,1) translate(-233.29,0)">56</text>
<text x="247.97" y="528.80" font-size="6.8" fill="#2b2b2b" text-anchor="middle" stroke="#2b2b2b" stroke-width="0.2" transform="translate(247.97,0) scale(0.9,1) translate(-247.97,0)">52</text>
<text x="262.65" y="528.80" font-size="6.8" fill="#2b2b2b" text-anchor="middle" stroke="#2b2b2b" stroke-width="0.2" transform="translate(262.65,0) scale(0.9,1) translate(-262.65,0)">45</text>
<text x="277.33" y="528.80" font-size="6.8" fill="#2b2b2b" text-anchor="middle" stroke="#2b2b2b" stroke-width="0.2" transform="translate(277.33,0) scale(0.9,1) translate(-277.33,0)">32</text>
<text x="292.01" y="528.80" font-size="6.8" fill="#2b2b2b" text-anchor="middle" stroke="#2b2b2b" stroke-width="0.2" transform="translate(292.01,0) scale(0.9,1) translate(-292.01,0)">27</text>
<text x="306.68" y="528.80" font-size="6.8" fill="#2b2b2b" text-anchor="middle" stroke="#2b2b2b" stroke-width="0.2" transform="translate(306.68,0) scale(0.9,1) translate(-306.68,0)">16</text>
<text x="321.36" y="528.80" font-size="6.8" fill="#2b2b2b" text-anchor="middle" stroke="#2b2b2b" stroke-width="0.2" transform="translate(321.36,0) scale(0.9,1) translate(-321.36,0)">7</text>
<text x="336.04" y="528.80" font-size="6.8" fill="#2b2b2b" text-anchor="middle" stroke="#2b2b2b" stroke-width="0.2" transform="translate(336.04,0) scale(0.9,1) translate(-336.04,0)">3</text>
<text x="350.72" y="528.80" font-size="6.8" fill="#2b2b2b" text-anchor="middle" stroke="#2b2b2b" stroke-width="0.2" transform="translate(350.72,0) scale(0.9,1) translate(-350.72,0)">1</text>
<text x="365.40" y="528.80" font-size="6.8" fill="#2b2b2b" text-anchor="middle" stroke="#2b2b2b" stroke-width="0.2" transform="translate(365.40,0) scale(0.9,1) translate(-365.40,0)">0</text>
<text x="19.80" y="537.50" font-size="6.7" fill="#cc9963" stroke="#cc9963" stroke-width="0.15">PR (N = 17)</text>
<text x="86.50" y="537.50" font-size="6.8" fill="#2b2b2b" text-anchor="middle" stroke="#2b2b2b" stroke-width="0.2" transform="translate(86.50,0) scale(0.9,1) translate(-86.50,0)">17</text>
<text x="101.18" y="537.50" font-size="6.8" fill="#2b2b2b" text-anchor="middle" stroke="#2b2b2b" stroke-width="0.2" transform="translate(101.18,0) scale(0.9,1) translate(-101.18,0)">16</text>
<text x="115.86" y="537.50" font-size="6.8" fill="#2b2b2b" text-anchor="middle" stroke="#2b2b2b" stroke-width="0.2" transform="translate(115.86,0) scale(0.9,1) translate(-115.86,0)">16</text>
<text x="130.54" y="537.50" font-size="6.8" fill="#2b2b2b" text-anchor="middle" stroke="#2b2b2b" stroke-width="0.2" transform="translate(130.54,0) scale(0.9,1) translate(-130.54,0)">16</text>
<text x="145.22" y="537.50" font-size="6.8" fill="#2b2b2b" text-anchor="middle" stroke="#2b2b2b" stroke-width="0.2" transform="translate(145.22,0) scale(0.9,1) translate(-145.22,0)">13</text>
<text x="159.89" y="537.50" font-size="6.8" fill="#2b2b2b" text-anchor="middle" stroke="#2b2b2b" stroke-width="0.2" transform="translate(159.89,0) scale(0.9,1) translate(-159.89,0)">13</text>
<text x="174.57" y="537.50" font-size="6.8" fill="#2b2b2b" text-anchor="middle" stroke="#2b2b2b" stroke-width="0.2" transform="translate(174.57,0) scale(0.9,1) translate(-174.57,0)">13</text>
<text x="189.25" y="537.50" font-size="6.8" fill="#2b2b2b" text-anchor="middle" stroke="#2b2b2b" stroke-width="0.2" transform="translate(189.25,0) scale(0.9,1) translate(-189.25,0)">13</text>
<text x="203.93" y="537.50" font-size="6.8" fill="#2b2b2b" text-anchor="middle" stroke="#2b2b2b" stroke-width="0.2" transform="translate(203.93,0) scale(0.9,1) translate(-203.93,0)">12</text>
<text x="218.61" y="537.50" font-size="6.8" fill="#2b2b2b" text-anchor="middle" stroke="#2b2b2b" stroke-width="0.2" transform="translate(218.61,0) scale(0.9,1) translate(-218.61,0)">12</text>
<text x="233.29" y="537.50" font-size="6.8" fill="#2b2b2b" text-anchor="middle" stroke="#2b2b2b" stroke-width="0.2" transform="translate(233.29,0) scale(0.9,1) translate(-233.29,0)">11</text>
<text x="247.97" y="537.50" font-size="6.8" fill="#2b2b2b" text-anchor="middle" stroke="#2b2b2b" stroke-width="0.2" transform="translate(247.97,0) scale(0.9,1) translate(-247.97,0)">9</text>
<text x="262.65" y="537.50" font-size="6.8" fill="#2b2b2b" text-anchor="middle" stroke="#2b2b2b" stroke-width="0.2" transform="translate(262.65,0) scale(0.9,1) translate(-262.65,0)">4</text>
<text x="277.33" y="537.50" font-size="6.8" fill="#2b2b2b" text-anchor="middle" stroke="#2b2b2b" stroke-width="0.2" transform="translate(277.33,0) scale(0.9,1) translate(-277.33,0)">2</text>
<text x="292.01" y="537.50" font-size="6.8" fill="#2b2b2b" text-anchor="middle" stroke="#2b2b2b" stroke-width="0.2" transform="translate(292.01,0) scale(0.9,1) translate(-292.01,0)">1</text>
<text x="306.68" y="537.50" font-size="6.8" fill="#2b2b2b" text-anchor="middle" stroke="#2b2b2b" stroke-width="0.2" transform="translate(306.68,0) scale(0.9,1) translate(-306.68,0)">1</text>
<text x="321.36" y="537.50" font-size="6.8" fill="#2b2b2b" text-anchor="middle" stroke="#2b2b2b" stroke-width="0.2" transform="translate(321.36,0) scale(0.9,1) translate(-321.36,0)">0</text>
<text x="336.04" y="537.50" font-size="6.8" fill="#2b2b2b" text-anchor="middle" stroke="#2b2b2b" stroke-width="0.2" transform="translate(336.04,0) scale(0.9,1) translate(-336.04,0)">0</text>
<text x="350.72" y="537.50" font-size="6.8" fill="#2b2b2b" text-anchor="middle" stroke="#2b2b2b" stroke-width="0.2" transform="translate(350.72,0) scale(0.9,1) translate(-350.72,0)">0</text>
<text x="365.40" y="537.50" font-size="6.8" fill="#2b2b2b" text-anchor="middle" stroke="#2b2b2b" stroke-width="0.2" transform="translate(365.40,0) scale(0.9,1) translate(-365.40,0)">0</text>
<text x="378.60" y="395.90" font-size="6.6" fill="#1a1a1a" font-weight="bold" stroke="#1a1a1a" stroke-width="0.2">OS Probability</text>
<text x="490.00" y="395.90" font-size="6.6" fill="#1a1a1a" text-anchor="middle" font-weight="bold" stroke="#1a1a1a" stroke-width="0.2">% (95% CI)</text>
<line x1="377.9" y1="399.10" x2="510.6" y2="399.10" stroke="#3a3a3a" stroke-width="1.05"/>
<text x="378.60" y="405.80" font-size="6.7" fill="#2b2b2b" stroke="#2b2b2b" stroke-width="0.15">12 months, all patients</text>
<text x="490.00" y="405.80" font-size="6.6" fill="#2b2b2b" text-anchor="middle" stroke="#2b2b2b" stroke-width="0.15">95.3 (88.1-98.2)</text>
<text x="378.60" y="414.67" font-size="6.7" fill="#2b2b2b" stroke="#2b2b2b" stroke-width="0.15">24 months, all patients</text>
<text x="490.00" y="414.67" font-size="6.6" fill="#2b2b2b" text-anchor="middle" stroke="#2b2b2b" stroke-width="0.15">87.7 (78.3-93.2)</text>
<text x="378.60" y="423.54" font-size="6.7" fill="#2b2b2b" stroke="#2b2b2b" stroke-width="0.15">12 months, patients in CR</text>
<text x="490.00" y="423.54" font-size="6.6" fill="#2b2b2b" text-anchor="middle" stroke="#2b2b2b" stroke-width="0.15">98.4 (88.9-99.8)</text>
<text x="378.60" y="432.41" font-size="6.7" fill="#2b2b2b" stroke="#2b2b2b" stroke-width="0.15">24 months, patients in CR</text>
<text x="490.00" y="432.41" font-size="6.6" fill="#2b2b2b" text-anchor="middle" stroke="#2b2b2b" stroke-width="0.15">95.0 (85.3-98.4)</text>
<text x="378.20" y="448.70" font-size="6.6" fill="#2b2b2b" stroke="#2b2b2b" stroke-width="0.15">Kaplan-Meier medians</text>
<text x="378.2" y="455.50" font-size="6.6" fill="#2b2b2b" stroke="#2b2b2b" stroke-width="0.15"><tspan fill="#c64469" stroke="#c64469">All patients:</tspan> NE months, 95% CI [34.5-NE]</text>
<text x="378.2" y="462.65" font-size="6.6" fill="#2b2b2b" stroke="#2b2b2b" stroke-width="0.15"><tspan fill="#486893" stroke="#486893">CR:</tspan> 34.5 months, 95% CI [34.5-NE]</text>
<text x="378.2" y="469.80" font-size="6.6" fill="#2b2b2b" stroke="#2b2b2b" stroke-width="0.15"><tspan fill="#cc9963" stroke="#cc9963">PR:</tspan> 25.8 months, 95% CI [23.7-NE]</text>
<path d="M86.50,388.10 L193.00,388.10 L193.00,395.00 L218.00,395.00 L218.00,401.90 L260.00,401.90 L260.00,412.70 L274.60,412.70 L274.60,434.80 L309.00,434.80" fill="none" stroke="#d49555" stroke-width="0.95" stroke-dasharray="1.7,1.65"/>
<path d="M86.50,388.10 L137.70,388.10 L137.70,389.20 L177.00,389.20 L177.00,391.40 L221.00,391.40 L221.00,392.70 L302.70,392.70 L302.70,396.70 L339.20,396.70 L339.20,437.10 L352.70,437.10" fill="none" stroke="#5276a6" stroke-width="1.15" stroke-dasharray="2.3,2.2"/>
<path d="M86.50,388.10 L137.70,388.10 L137.70,391.20 L159.00,391.20 L159.00,392.70 L177.00,392.70 L177.00,394.20 L193.00,394.20 L193.00,395.40 L218.00,395.40 L218.00,396.40 L258.50,396.40 L258.50,399.40 L274.00,399.40 L274.00,401.20 L302.70,401.20 L302.70,404.40 L339.20,404.40 L339.20,428.40 L352.70,428.40" fill="none" stroke="#c44266" stroke-width="1.0"/>
<rect x="235.65" y="400.55" width="2.7" height="2.7" fill="none" stroke="#b07a48" stroke-width="0.75"/>
<rect x="244.65" y="400.55" width="2.7" height="2.7" fill="none" stroke="#b07a48" stroke-width="0.75"/>
<rect x="246.15" y="400.55" width="2.7" height="2.7" fill="none" stroke="#b07a48" stroke-width="0.75"/>
<rect x="247.65" y="400.55" width="2.7" height="2.7" fill="none" stroke="#b07a48" stroke-width="0.75"/>
<rect x="258.65" y="411.35" width="2.7" height="2.7" fill="none" stroke="#b07a48" stroke-width="0.75"/>
<rect x="261.65" y="411.35" width="2.7" height="2.7" fill="none" stroke="#b07a48" stroke-width="0.75"/>
<rect x="264.65" y="411.35" width="2.7" height="2.7" fill="none" stroke="#b07a48" stroke-width="0.75"/>
<rect x="281.15" y="433.45" width="2.7" height="2.7" fill="none" stroke="#b07a48" stroke-width="0.75"/>
<rect x="307.65" y="433.45" width="2.7" height="2.7" fill="none" stroke="#b07a48" stroke-width="0.75"/>
<rect x="152.45" y="387.85" width="2.7" height="2.7" fill="none" stroke="#34547e" stroke-width="0.75"/>
<rect x="175.65" y="390.05" width="2.7" height="2.7" fill="none" stroke="#34547e" stroke-width="0.75"/>
<rect x="216.65" y="390.05" width="2.7" height="2.7" fill="none" stroke="#34547e" stroke-width="0.75"/>
<rect x="239.15" y="391.35" width="2.7" height="2.7" fill="none" stroke="#34547e" stroke-width="0.75"/>
<rect x="241.65" y="391.35" width="2.7" height="2.7" fill="none" stroke="#34547e" stroke-width="0.75"/>
<rect x="244.15" y="391.35" width="2.7" height="2.7" fill="none" stroke="#34547e" stroke-width="0.75"/>
<rect x="246.65" y="391.35" width="2.7" height="2.7" fill="none" stroke="#34547e" stroke-width="0.75"/>
<rect x="255.65" y="391.35" width="2.7" height="2.7" fill="none" stroke="#34547e" stroke-width="0.75"/>
<rect x="258.15" y="391.35" width="2.7" height="2.7" fill="none" stroke="#34547e" stroke-width="0.75"/>
<rect x="260.65" y="391.35" width="2.7" height="2.7" fill="none" stroke="#34547e" stroke-width="0.75"/>
<rect x="263.15" y="391.35" width="2.7" height="2.7" fill="none" stroke="#34547e" stroke-width="0.75"/>
<rect x="264.65" y="391.35" width="2.7" height="2.7" fill="none" stroke="#34547e" stroke-width="0.75"/>
<rect x="266.15" y="391.35" width="2.7" height="2.7" fill="none" stroke="#34547e" stroke-width="0.75"/>
<rect x="267.65" y="391.35" width="2.7" height="2.7" fill="none" stroke="#34547e" stroke-width="0.75"/>
<rect x="269.15" y="391.35" width="2.7" height="2.7" fill="none" stroke="#34547e" stroke-width="0.75"/>
<rect x="270.65" y="391.35" width="2.7" height="2.7" fill="none" stroke="#34547e" stroke-width="0.75"/>
<rect x="272.15" y="391.35" width="2.7" height="2.7" fill="none" stroke="#34547e" stroke-width="0.75"/>
<rect x="273.65" y="391.35" width="2.7" height="2.7" fill="none" stroke="#34547e" stroke-width="0.75"/>
<rect x="275.15" y="391.35" width="2.7" height="2.7" fill="none" stroke="#34547e" stroke-width="0.75"/>
<rect x="280.15" y="391.35" width="2.7" height="2.7" fill="none" stroke="#34547e" stroke-width="0.75"/>
<rect x="282.65" y="391.35" width="2.7" height="2.7" fill="none" stroke="#34547e" stroke-width="0.75"/>
<rect x="285.15" y="391.35" width="2.7" height="2.7" fill="none" stroke="#34547e" stroke-width="0.75"/>
<rect x="287.65" y="391.35" width="2.7" height="2.7" fill="none" stroke="#34547e" stroke-width="0.75"/>
<rect x="291.65" y="391.35" width="2.7" height="2.7" fill="none" stroke="#34547e" stroke-width="0.75"/>
<rect x="294.15" y="391.35" width="2.7" height="2.7" fill="none" stroke="#34547e" stroke-width="0.75"/>
<rect x="296.65" y="391.35" width="2.7" height="2.7" fill="none" stroke="#34547e" stroke-width="0.75"/>
<rect x="301.65" y="395.35" width="2.7" height="2.7" fill="none" stroke="#34547e" stroke-width="0.75"/>
<rect x="303.15" y="395.35" width="2.7" height="2.7" fill="none" stroke="#34547e" stroke-width="0.75"/>
<rect x="304.65" y="395.35" width="2.7" height="2.7" fill="none" stroke="#34547e" stroke-width="0.75"/>
<rect x="306.15" y="395.35" width="2.7" height="2.7" fill="none" stroke="#34547e" stroke-width="0.75"/>
<rect x="307.65" y="395.35" width="2.7" height="2.7" fill="none" stroke="#34547e" stroke-width="0.75"/>
<rect x="309.15" y="395.35" width="2.7" height="2.7" fill="none" stroke="#34547e" stroke-width="0.75"/>
<rect x="310.65" y="395.35" width="2.7" height="2.7" fill="none" stroke="#34547e" stroke-width="0.75"/>
<rect x="310.65" y="395.35" width="2.7" height="2.7" fill="none" stroke="#34547e" stroke-width="0.75"/>
<rect x="313.15" y="395.35" width="2.7" height="2.7" fill="none" stroke="#34547e" stroke-width="0.75"/>
<rect x="315.65" y="395.35" width="2.7" height="2.7" fill="none" stroke="#34547e" stroke-width="0.75"/>
<rect x="318.15" y="395.35" width="2.7" height="2.7" fill="none" stroke="#34547e" stroke-width="0.75"/>
<rect x="320.65" y="395.35" width="2.7" height="2.7" fill="none" stroke="#34547e" stroke-width="0.75"/>
<rect x="325.65" y="395.35" width="2.7" height="2.7" fill="none" stroke="#34547e" stroke-width="0.75"/>
<rect x="328.15" y="395.35" width="2.7" height="2.7" fill="none" stroke="#34547e" stroke-width="0.75"/>
<rect x="330.65" y="395.35" width="2.7" height="2.7" fill="none" stroke="#34547e" stroke-width="0.75"/>
<rect x="333.15" y="395.35" width="2.7" height="2.7" fill="none" stroke="#34547e" stroke-width="0.75"/>
<rect x="351.35" y="435.75" width="2.7" height="2.7" fill="none" stroke="#34547e" stroke-width="0.75"/>
<rect x="98.65" y="386.75" width="2.7" height="2.7" fill="none" stroke="#aa3050" stroke-width="0.75"/>
<rect x="105.65" y="386.75" width="2.7" height="2.7" fill="none" stroke="#aa3050" stroke-width="0.75"/>
<rect x="122.45" y="386.75" width="2.7" height="2.7" fill="none" stroke="#aa3050" stroke-width="0.75"/>
<rect x="130.15" y="386.75" width="2.7" height="2.7" fill="none" stroke="#aa3050" stroke-width="0.75"/>
<rect x="132.65" y="386.75" width="2.7" height="2.7" fill="none" stroke="#aa3050" stroke-width="0.75"/>
<rect x="152.45" y="389.85" width="2.7" height="2.7" fill="none" stroke="#aa3050" stroke-width="0.75"/>
<rect x="175.65" y="392.85" width="2.7" height="2.7" fill="none" stroke="#aa3050" stroke-width="0.75"/>
<rect x="216.65" y="395.05" width="2.7" height="2.7" fill="none" stroke="#aa3050" stroke-width="0.75"/>
<rect x="239.15" y="395.05" width="2.7" height="2.7" fill="none" stroke="#aa3050" stroke-width="0.75"/>
<rect x="241.65" y="395.05" width="2.7" height="2.7" fill="none" stroke="#aa3050" stroke-width="0.75"/>
<rect x="244.15" y="395.05" width="2.7" height="2.7" fill="none" stroke="#aa3050" stroke-width="0.75"/>
<rect x="246.65" y="395.05" width="2.7" height="2.7" fill="none" stroke="#aa3050" stroke-width="0.75"/>
<rect x="255.65" y="395.05" width="2.7" height="2.7" fill="none" stroke="#aa3050" stroke-width="0.75"/>
<rect x="258.15" y="398.05" width="2.7" height="2.7" fill="none" stroke="#aa3050" stroke-width="0.75"/>
<rect x="260.65" y="398.05" width="2.7" height="2.7" fill="none" stroke="#aa3050" stroke-width="0.75"/>
<rect x="263.15" y="398.05" width="2.7" height="2.7" fill="none" stroke="#aa3050" stroke-width="0.75"/>
<rect x="265.65" y="398.05" width="2.7" height="2.7" fill="none" stroke="#aa3050" stroke-width="0.75"/>
<rect x="268.15" y="398.05" width="2.7" height="2.7" fill="none" stroke="#aa3050" stroke-width="0.75"/>
<rect x="270.65" y="398.05" width="2.7" height="2.7" fill="none" stroke="#aa3050" stroke-width="0.75"/>
<rect x="273.15" y="399.85" width="2.7" height="2.7" fill="none" stroke="#aa3050" stroke-width="0.75"/>
<rect x="275.65" y="399.85" width="2.7" height="2.7" fill="none" stroke="#aa3050" stroke-width="0.75"/>
<rect x="280.15" y="399.85" width="2.7" height="2.7" fill="none" stroke="#aa3050" stroke-width="0.75"/>
<rect x="282.65" y="399.85" width="2.7" height="2.7" fill="none" stroke="#aa3050" stroke-width="0.75"/>
<rect x="285.15" y="399.85" width="2.7" height="2.7" fill="none" stroke="#aa3050" stroke-width="0.75"/>
<rect x="287.65" y="399.85" width="2.7" height="2.7" fill="none" stroke="#aa3050" stroke-width="0.75"/>
<rect x="291.65" y="399.85" width="2.7" height="2.7" fill="none" stroke="#aa3050" stroke-width="0.75"/>
<rect x="294.15" y="399.85" width="2.7" height="2.7" fill="none" stroke="#aa3050" stroke-width="0.75"/>
<rect x="296.65" y="399.85" width="2.7" height="2.7" fill="none" stroke="#aa3050" stroke-width="0.75"/>
<rect x="301.65" y="403.05" width="2.7" height="2.7" fill="none" stroke="#aa3050" stroke-width="0.75"/>
<rect x="303.15" y="403.05" width="2.7" height="2.7" fill="none" stroke="#aa3050" stroke-width="0.75"/>
<rect x="304.65" y="403.05" width="2.7" height="2.7" fill="none" stroke="#aa3050" stroke-width="0.75"/>
<rect x="306.15" y="403.05" width="2.7" height="2.7" fill="none" stroke="#aa3050" stroke-width="0.75"/>
<rect x="307.65" y="403.05" width="2.7" height="2.7" fill="none" stroke="#aa3050" stroke-width="0.75"/>
<rect x="309.15" y="403.05" width="2.7" height="2.7" fill="none" stroke="#aa3050" stroke-width="0.75"/>
<rect x="310.65" y="403.05" width="2.7" height="2.7" fill="none" stroke="#aa3050" stroke-width="0.75"/>
<rect x="310.65" y="403.05" width="2.7" height="2.7" fill="none" stroke="#aa3050" stroke-width="0.75"/>
<rect x="313.15" y="403.05" width="2.7" height="2.7" fill="none" stroke="#aa3050" stroke-width="0.75"/>
<rect x="315.65" y="403.05" width="2.7" height="2.7" fill="none" stroke="#aa3050" stroke-width="0.75"/>
<rect x="318.15" y="403.05" width="2.7" height="2.7" fill="none" stroke="#aa3050" stroke-width="0.75"/>
<rect x="320.65" y="403.05" width="2.7" height="2.7" fill="none" stroke="#aa3050" stroke-width="0.75"/>
<rect x="325.65" y="403.05" width="2.7" height="2.7" fill="none" stroke="#aa3050" stroke-width="0.75"/>
<rect x="328.15" y="403.05" width="2.7" height="2.7" fill="none" stroke="#aa3050" stroke-width="0.75"/>
<rect x="330.65" y="403.05" width="2.7" height="2.7" fill="none" stroke="#aa3050" stroke-width="0.75"/>
<rect x="333.15" y="403.05" width="2.7" height="2.7" fill="none" stroke="#aa3050" stroke-width="0.75"/>
<rect x="338.65" y="427.05" width="2.7" height="2.7" fill="none" stroke="#aa3050" stroke-width="0.75"/>
<rect x="339.65" y="427.05" width="2.7" height="2.7" fill="none" stroke="#aa3050" stroke-width="0.75"/>
<rect x="340.65" y="427.05" width="2.7" height="2.7" fill="none" stroke="#aa3050" stroke-width="0.75"/>
<rect x="347.65" y="427.05" width="2.7" height="2.7" fill="none" stroke="#aa3050" stroke-width="0.75"/>
<rect x="350.15" y="427.05" width="2.7" height="2.7" fill="none" stroke="#aa3050" stroke-width="0.75"/>
<text x="6.90" y="558.70" font-size="11.6" fill="#111" font-weight="bold" stroke="#111" stroke-width="0.55">D</text>
<text x="140.60" y="559.40" font-size="8.9" fill="#222" textLength="149.6" lengthAdjust="spacingAndGlyphs" stroke="#222" stroke-width="0.2">Time to next antilymphoma treatment</text>
<g stroke="#2e2e2e" fill="none">
<line x1="62.2" y1="565.4000000000001" x2="62.2" y2="659.95" stroke-width="1.5"/>
<line x1="61.45" y1="659.2" x2="367.8" y2="659.2" stroke-width="1.5"/>
<line x1="59" y1="657.95" x2="62.2" y2="657.95" stroke-width="1"/>
<line x1="60.5" y1="649.00" x2="62.2" y2="649.00" stroke-width="0.9"/>
<line x1="59" y1="640.05" x2="62.2" y2="640.05" stroke-width="1"/>
<line x1="60.5" y1="631.10" x2="62.2" y2="631.10" stroke-width="0.9"/>
<line x1="59" y1="622.15" x2="62.2" y2="622.15" stroke-width="1"/>
<line x1="60.5" y1="613.20" x2="62.2" y2="613.20" stroke-width="0.9"/>
<line x1="59" y1="604.25" x2="62.2" y2="604.25" stroke-width="1"/>
<line x1="60.5" y1="595.30" x2="62.2" y2="595.30" stroke-width="0.9"/>
<line x1="59" y1="586.35" x2="62.2" y2="586.35" stroke-width="1"/>
<line x1="60.5" y1="577.40" x2="62.2" y2="577.40" stroke-width="0.9"/>
<line x1="59" y1="568.45" x2="62.2" y2="568.45" stroke-width="1"/>
<line x1="87.70" y1="659.2" x2="87.70" y2="662.2" stroke-width="1"/>
<line x1="95.41" y1="659.2" x2="95.41" y2="660.9000000000001" stroke-width="0.9"/>
<line x1="103.12" y1="659.2" x2="103.12" y2="662.2" stroke-width="1"/>
<line x1="110.83" y1="659.2" x2="110.83" y2="660.9000000000001" stroke-width="0.9"/>
<line x1="118.54" y1="659.2" x2="118.54" y2="662.2" stroke-width="1"/>
<line x1="126.25" y1="659.2" x2="126.25" y2="660.9000000000001" stroke-width="0.9"/>
<line x1="133.96" y1="659.2" x2="133.96" y2="662.2" stroke-width="1"/>
<line x1="141.67" y1="659.2" x2="141.67" y2="660.9000000000001" stroke-width="0.9"/>
<line x1="149.38" y1="659.2" x2="149.38" y2="662.2" stroke-width="1"/>
<line x1="157.09" y1="659.2" x2="157.09" y2="660.9000000000001" stroke-width="0.9"/>
<line x1="164.80" y1="659.2" x2="164.80" y2="662.2" stroke-width="1"/>
<line x1="172.51" y1="659.2" x2="172.51" y2="660.9000000000001" stroke-width="0.9"/>
<line x1="180.22" y1="659.2" x2="180.22" y2="662.2" stroke-width="1"/>
<line x1="187.93" y1="659.2" x2="187.93" y2="660.9000000000001" stroke-width="0.9"/>
<line x1="195.64" y1="659.2" x2="195.64" y2="662.2" stroke-width="1"/>
<line x1="203.35" y1="659.2" x2="203.35" y2="660.9000000000001" stroke-width="0.9"/>
<line x1="211.06" y1="659.2" x2="211.06" y2="662.2" stroke-width="1"/>
<line x1="218.77" y1="659.2" x2="218.77" y2="660.9000000000001" stroke-width="0.9"/>
<line x1="226.48" y1="659.2" x2="226.48" y2="662.2" stroke-width="1"/>
<line x1="234.18" y1="659.2" x2="234.18" y2="660.9000000000001" stroke-width="0.9"/>
<line x1="241.89" y1="659.2" x2="241.89" y2="662.2" stroke-width="1"/>
<line x1="249.60" y1="659.2" x2="249.60" y2="660.9000000000001" stroke-width="0.9"/>
<line x1="257.31" y1="659.2" x2="257.31" y2="662.2" stroke-width="1"/>
<line x1="265.02" y1="659.2" x2="265.02" y2="660.9000000000001" stroke-width="0.9"/>
<line x1="272.73" y1="659.2" x2="272.73" y2="662.2" stroke-width="1"/>
<line x1="280.44" y1="659.2" x2="280.44" y2="660.9000000000001" stroke-width="0.9"/>
<line x1="288.15" y1="659.2" x2="288.15" y2="662.2" stroke-width="1"/>
<line x1="295.86" y1="659.2" x2="295.86" y2="660.9000000000001" stroke-width="0.9"/>
<line x1="303.57" y1="659.2" x2="303.57" y2="662.2" stroke-width="1"/>
<line x1="311.28" y1="659.2" x2="311.28" y2="660.9000000000001" stroke-width="0.9"/>
<line x1="318.99" y1="659.2" x2="318.99" y2="662.2" stroke-width="1"/>
<line x1="326.70" y1="659.2" x2="326.70" y2="660.9000000000001" stroke-width="0.9"/>
<line x1="334.41" y1="659.2" x2="334.41" y2="662.2" stroke-width="1"/>
<line x1="342.12" y1="659.2" x2="342.12" y2="660.9000000000001" stroke-width="0.9"/>
<line x1="349.83" y1="659.2" x2="349.83" y2="662.2" stroke-width="1"/>
<line x1="357.54" y1="659.2" x2="357.54" y2="660.9000000000001" stroke-width="0.9"/>
<line x1="365.25" y1="659.2" x2="365.25" y2="662.2" stroke-width="1"/>
</g>
<text x="56.00" y="660.25" font-size="6.5" fill="#2b2b2b" text-anchor="end" stroke="#2b2b2b" stroke-width="0.18" transform="translate(56.00,0) scale(0.95,1) translate(-56.00,0)">0</text>
<text x="56.00" y="642.35" font-size="6.5" fill="#2b2b2b" text-anchor="end" stroke="#2b2b2b" stroke-width="0.18" transform="translate(56.00,0) scale(0.95,1) translate(-56.00,0)">20</text>
<text x="56.00" y="624.45" font-size="6.5" fill="#2b2b2b" text-anchor="end" stroke="#2b2b2b" stroke-width="0.18" transform="translate(56.00,0) scale(0.95,1) translate(-56.00,0)">40</text>
<text x="56.00" y="606.55" font-size="6.5" fill="#2b2b2b" text-anchor="end" stroke="#2b2b2b" stroke-width="0.18" transform="translate(56.00,0) scale(0.95,1) translate(-56.00,0)">60</text>
<text x="56.00" y="588.65" font-size="6.5" fill="#2b2b2b" text-anchor="end" stroke="#2b2b2b" stroke-width="0.18" transform="translate(56.00,0) scale(0.95,1) translate(-56.00,0)">80</text>
<text x="56.00" y="570.75" font-size="6.5" fill="#2b2b2b" text-anchor="end" stroke="#2b2b2b" stroke-width="0.18" transform="translate(56.00,0) scale(0.95,1) translate(-56.00,0)">100</text>
<text x="87.70" y="671.00" font-size="6.5" fill="#2b2b2b" text-anchor="middle" stroke="#2b2b2b" stroke-width="0.18" transform="translate(87.70,0) scale(0.95,1) translate(-87.70,0)">0</text>
<text x="103.12" y="671.00" font-size="6.5" fill="#2b2b2b" text-anchor="middle" stroke="#2b2b2b" stroke-width="0.18" transform="translate(103.12,0) scale(0.95,1) translate(-103.12,0)">2</text>
<text x="118.54" y="671.00" font-size="6.5" fill="#2b2b2b" text-anchor="middle" stroke="#2b2b2b" stroke-width="0.18" transform="translate(118.54,0) scale(0.95,1) translate(-118.54,0)">4</text>
<text x="133.96" y="671.00" font-size="6.5" fill="#2b2b2b" text-anchor="middle" stroke="#2b2b2b" stroke-width="0.18" transform="translate(133.96,0) scale(0.95,1) translate(-133.96,0)">6</text>
<text x="149.38" y="671.00" font-size="6.5" fill="#2b2b2b" text-anchor="middle" stroke="#2b2b2b" stroke-width="0.18" transform="translate(149.38,0) scale(0.95,1) translate(-149.38,0)">8</text>
<text x="164.80" y="671.00" font-size="6.5" fill="#2b2b2b" text-anchor="middle" stroke="#2b2b2b" stroke-width="0.18" transform="translate(164.80,0) scale(0.95,1) translate(-164.80,0)">10</text>
<text x="180.22" y="671.00" font-size="6.5" fill="#2b2b2b" text-anchor="middle" stroke="#2b2b2b" stroke-width="0.18" transform="translate(180.22,0) scale(0.95,1) translate(-180.22,0)">12</text>
<text x="195.64" y="671.00" font-size="6.5" fill="#2b2b2b" text-anchor="middle" stroke="#2b2b2b" stroke-width="0.18" transform="translate(195.64,0) scale(0.95,1) translate(-195.64,0)">14</text>
<text x="211.06" y="671.00" font-size="6.5" fill="#2b2b2b" text-anchor="middle" stroke="#2b2b2b" stroke-width="0.18" transform="translate(211.06,0) scale(0.95,1) translate(-211.06,0)">16</text>
<text x="226.48" y="671.00" font-size="6.5" fill="#2b2b2b" text-anchor="middle" stroke="#2b2b2b" stroke-width="0.18" transform="translate(226.48,0) scale(0.95,1) translate(-226.48,0)">18</text>
<text x="241.89" y="671.00" font-size="6.5" fill="#2b2b2b" text-anchor="middle" stroke="#2b2b2b" stroke-width="0.18" transform="translate(241.89,0) scale(0.95,1) translate(-241.89,0)">20</text>
<text x="257.31" y="671.00" font-size="6.5" fill="#2b2b2b" text-anchor="middle" stroke="#2b2b2b" stroke-width="0.18" transform="translate(257.31,0) scale(0.95,1) translate(-257.31,0)">22</text>
<text x="272.73" y="671.00" font-size="6.5" fill="#2b2b2b" text-anchor="middle" stroke="#2b2b2b" stroke-width="0.18" transform="translate(272.73,0) scale(0.95,1) translate(-272.73,0)">24</text>
<text x="288.15" y="671.00" font-size="6.5" fill="#2b2b2b" text-anchor="middle" stroke="#2b2b2b" stroke-width="0.18" transform="translate(288.15,0) scale(0.95,1) translate(-288.15,0)">26</text>
<text x="303.57" y="671.00" font-size="6.5" fill="#2b2b2b" text-anchor="middle" stroke="#2b2b2b" stroke-width="0.18" transform="translate(303.57,0) scale(0.95,1) translate(-303.57,0)">28</text>
<text x="318.99" y="671.00" font-size="6.5" fill="#2b2b2b" text-anchor="middle" stroke="#2b2b2b" stroke-width="0.18" transform="translate(318.99,0) scale(0.95,1) translate(-318.99,0)">30</text>
<text x="334.41" y="671.00" font-size="6.5" fill="#2b2b2b" text-anchor="middle" stroke="#2b2b2b" stroke-width="0.18" transform="translate(334.41,0) scale(0.95,1) translate(-334.41,0)">32</text>
<text x="349.83" y="671.00" font-size="6.5" fill="#2b2b2b" text-anchor="middle" stroke="#2b2b2b" stroke-width="0.18" transform="translate(349.83,0) scale(0.95,1) translate(-349.83,0)">34</text>
<text x="365.25" y="671.00" font-size="6.5" fill="#2b2b2b" text-anchor="middle" stroke="#2b2b2b" stroke-width="0.18" transform="translate(365.25,0) scale(0.95,1) translate(-365.25,0)">36</text>
<text x="-30.25" y="0" font-size="9.0" fill="#2b2b2b" stroke="#2b2b2b" stroke-width="0.18" textLength="60.5" lengthAdjust="spacingAndGlyphs" transform="translate(39.6,611.90) rotate(-90)">TTNT probability (%)</text>
<text x="193.50" y="682.90" font-size="8.2" fill="#2b2b2b" textLength="44.2" lengthAdjust="spacingAndGlyphs" stroke="#2b2b2b" stroke-width="0.18">Time (months)</text>
<text x="19.80" y="691.00" font-size="6.7" fill="#2b2b2b" stroke="#2b2b2b" stroke-width="0.18">Number of patients still at risk</text>
<text x="19.80" y="701.00" font-size="6.7" fill="#c64469" stroke="#c64469" stroke-width="0.15">All patients (N = 94)</text>
<text x="87.70" y="701.00" font-size="6.8" fill="#2b2b2b" text-anchor="middle" stroke="#2b2b2b" stroke-width="0.2" transform="translate(87.70,0) scale(0.9,1) translate(-87.70,0)">94</text>
<text x="103.12" y="701.00" font-size="6.8" fill="#2b2b2b" text-anchor="middle" stroke="#2b2b2b" stroke-width="0.2" transform="translate(103.12,0) scale(0.9,1) translate(-103.12,0)">92</text>
<text x="118.54" y="701.00" font-size="6.8" fill="#2b2b2b" text-anchor="middle" stroke="#2b2b2b" stroke-width="0.2" transform="translate(118.54,0) scale(0.9,1) translate(-118.54,0)">89</text>
<text x="133.96" y="701.00" font-size="6.8" fill="#2b2b2b" text-anchor="middle" stroke="#2b2b2b" stroke-width="0.2" transform="translate(133.96,0) scale(0.9,1) translate(-133.96,0)">83</text>
<text x="149.38" y="701.00" font-size="6.8" fill="#2b2b2b" text-anchor="middle" stroke="#2b2b2b" stroke-width="0.2" transform="translate(149.38,0) scale(0.9,1) translate(-149.38,0)">73</text>
<text x="164.80" y="701.00" font-size="6.8" fill="#2b2b2b" text-anchor="middle" stroke="#2b2b2b" stroke-width="0.2" transform="translate(164.80,0) scale(0.9,1) translate(-164.80,0)">69</text>
<text x="180.22" y="701.00" font-size="6.8" fill="#2b2b2b" text-anchor="middle" stroke="#2b2b2b" stroke-width="0.2" transform="translate(180.22,0) scale(0.9,1) translate(-180.22,0)">67</text>
<text x="195.64" y="701.00" font-size="6.8" fill="#2b2b2b" text-anchor="middle" stroke="#2b2b2b" stroke-width="0.2" transform="translate(195.64,0) scale(0.9,1) translate(-195.64,0)">64</text>
<text x="211.06" y="701.00" font-size="6.8" fill="#2b2b2b" text-anchor="middle" stroke="#2b2b2b" stroke-width="0.2" transform="translate(211.06,0) scale(0.9,1) translate(-211.06,0)">63</text>
<text x="226.48" y="701.00" font-size="6.8" fill="#2b2b2b" text-anchor="middle" stroke="#2b2b2b" stroke-width="0.2" transform="translate(226.48,0) scale(0.9,1) translate(-226.48,0)">62</text>
<text x="241.89" y="701.00" font-size="6.8" fill="#2b2b2b" text-anchor="middle" stroke="#2b2b2b" stroke-width="0.2" transform="translate(241.89,0) scale(0.9,1) translate(-241.89,0)">60</text>
<text x="257.31" y="701.00" font-size="6.8" fill="#2b2b2b" text-anchor="middle" stroke="#2b2b2b" stroke-width="0.2" transform="translate(257.31,0) scale(0.9,1) translate(-257.31,0)">55</text>
<text x="272.73" y="701.00" font-size="6.8" fill="#2b2b2b" text-anchor="middle" stroke="#2b2b2b" stroke-width="0.2" transform="translate(272.73,0) scale(0.9,1) translate(-272.73,0)">45</text>
<text x="288.15" y="701.00" font-size="6.8" fill="#2b2b2b" text-anchor="middle" stroke="#2b2b2b" stroke-width="0.2" transform="translate(288.15,0) scale(0.9,1) translate(-288.15,0)">31</text>
<text x="303.57" y="701.00" font-size="6.8" fill="#2b2b2b" text-anchor="middle" stroke="#2b2b2b" stroke-width="0.2" transform="translate(303.57,0) scale(0.9,1) translate(-303.57,0)">26</text>
<text x="318.99" y="701.00" font-size="6.8" fill="#2b2b2b" text-anchor="middle" stroke="#2b2b2b" stroke-width="0.2" transform="translate(318.99,0) scale(0.9,1) translate(-318.99,0)">14</text>
<text x="334.41" y="701.00" font-size="6.8" fill="#2b2b2b" text-anchor="middle" stroke="#2b2b2b" stroke-width="0.2" transform="translate(334.41,0) scale(0.9,1) translate(-334.41,0)">4</text>
<text x="349.83" y="701.00" font-size="6.8" fill="#2b2b2b" text-anchor="middle" stroke="#2b2b2b" stroke-width="0.2" transform="translate(349.83,0) scale(0.9,1) translate(-349.83,0)">1</text>
<text x="365.25" y="701.00" font-size="6.8" fill="#2b2b2b" text-anchor="middle" stroke="#2b2b2b" stroke-width="0.2" transform="translate(365.25,0) scale(0.9,1) translate(-365.25,0)">0</text>
<text x="19.80" y="709.80" font-size="6.7" fill="#486893" stroke="#486893" stroke-width="0.15">CR (N = 64)</text>
<text x="87.70" y="709.80" font-size="6.8" fill="#2b2b2b" text-anchor="middle" stroke="#2b2b2b" stroke-width="0.2" transform="translate(87.70,0) scale(0.9,1) translate(-87.70,0)">64</text>
<text x="103.12" y="709.80" font-size="6.8" fill="#2b2b2b" text-anchor="middle" stroke="#2b2b2b" stroke-width="0.2" transform="translate(103.12,0) scale(0.9,1) translate(-103.12,0)">64</text>
<text x="118.54" y="709.80" font-size="6.8" fill="#2b2b2b" text-anchor="middle" stroke="#2b2b2b" stroke-width="0.2" transform="translate(118.54,0) scale(0.9,1) translate(-118.54,0)">64</text>
<text x="133.96" y="709.80" font-size="6.8" fill="#2b2b2b" text-anchor="middle" stroke="#2b2b2b" stroke-width="0.2" transform="translate(133.96,0) scale(0.9,1) translate(-133.96,0)">64</text>
<text x="149.38" y="709.80" font-size="6.8" fill="#2b2b2b" text-anchor="middle" stroke="#2b2b2b" stroke-width="0.2" transform="translate(149.38,0) scale(0.9,1) translate(-149.38,0)">61</text>
<text x="164.80" y="709.80" font-size="6.8" fill="#2b2b2b" text-anchor="middle" stroke="#2b2b2b" stroke-width="0.2" transform="translate(164.80,0) scale(0.9,1) translate(-164.80,0)">59</text>
<text x="180.22" y="709.80" font-size="6.8" fill="#2b2b2b" text-anchor="middle" stroke="#2b2b2b" stroke-width="0.2" transform="translate(180.22,0) scale(0.9,1) translate(-180.22,0)">58</text>
<text x="195.64" y="709.80" font-size="6.8" fill="#2b2b2b" text-anchor="middle" stroke="#2b2b2b" stroke-width="0.2" transform="translate(195.64,0) scale(0.9,1) translate(-195.64,0)">55</text>
<text x="211.06" y="709.80" font-size="6.8" fill="#2b2b2b" text-anchor="middle" stroke="#2b2b2b" stroke-width="0.2" transform="translate(211.06,0) scale(0.9,1) translate(-211.06,0)">54</text>
<text x="226.48" y="709.80" font-size="6.8" fill="#2b2b2b" text-anchor="middle" stroke="#2b2b2b" stroke-width="0.2" transform="translate(226.48,0) scale(0.9,1) translate(-226.48,0)">53</text>
<text x="241.89" y="709.80" font-size="6.8" fill="#2b2b2b" text-anchor="middle" stroke="#2b2b2b" stroke-width="0.2" transform="translate(241.89,0) scale(0.9,1) translate(-241.89,0)">51</text>
<text x="257.31" y="709.80" font-size="6.8" fill="#2b2b2b" text-anchor="middle" stroke="#2b2b2b" stroke-width="0.2" transform="translate(257.31,0) scale(0.9,1) translate(-257.31,0)">47</text>
<text x="272.73" y="709.80" font-size="6.8" fill="#2b2b2b" text-anchor="middle" stroke="#2b2b2b" stroke-width="0.2" transform="translate(272.73,0) scale(0.9,1) translate(-272.73,0)">41</text>
<text x="288.15" y="709.80" font-size="6.8" fill="#2b2b2b" text-anchor="middle" stroke="#2b2b2b" stroke-width="0.2" transform="translate(288.15,0) scale(0.9,1) translate(-288.15,0)">29</text>
<text x="303.57" y="709.80" font-size="6.8" fill="#2b2b2b" text-anchor="middle" stroke="#2b2b2b" stroke-width="0.2" transform="translate(303.57,0) scale(0.9,1) translate(-303.57,0)">24</text>
<text x="318.99" y="709.80" font-size="6.8" fill="#2b2b2b" text-anchor="middle" stroke="#2b2b2b" stroke-width="0.2" transform="translate(318.99,0) scale(0.9,1) translate(-318.99,0)">13</text>
<text x="334.41" y="709.80" font-size="6.8" fill="#2b2b2b" text-anchor="middle" stroke="#2b2b2b" stroke-width="0.2" transform="translate(334.41,0) scale(0.9,1) translate(-334.41,0)">4</text>
<text x="349.83" y="709.80" font-size="6.8" fill="#2b2b2b" text-anchor="middle" stroke="#2b2b2b" stroke-width="0.2" transform="translate(349.83,0) scale(0.9,1) translate(-349.83,0)">1</text>
<text x="365.25" y="709.80" font-size="6.8" fill="#2b2b2b" text-anchor="middle" stroke="#2b2b2b" stroke-width="0.2" transform="translate(365.25,0) scale(0.9,1) translate(-365.25,0)">0</text>
<text x="19.80" y="718.50" font-size="6.7" fill="#cc9963" stroke="#cc9963" stroke-width="0.15">PR (N = 17)</text>
<text x="87.70" y="718.50" font-size="6.8" fill="#2b2b2b" text-anchor="middle" stroke="#2b2b2b" stroke-width="0.2" transform="translate(87.70,0) scale(0.9,1) translate(-87.70,0)">17</text>
<text x="103.12" y="718.50" font-size="6.8" fill="#2b2b2b" text-anchor="middle" stroke="#2b2b2b" stroke-width="0.2" transform="translate(103.12,0) scale(0.9,1) translate(-103.12,0)">16</text>
<text x="118.54" y="718.50" font-size="6.8" fill="#2b2b2b" text-anchor="middle" stroke="#2b2b2b" stroke-width="0.2" transform="translate(118.54,0) scale(0.9,1) translate(-118.54,0)">16</text>
<text x="133.96" y="718.50" font-size="6.8" fill="#2b2b2b" text-anchor="middle" stroke="#2b2b2b" stroke-width="0.2" transform="translate(133.96,0) scale(0.9,1) translate(-133.96,0)">14</text>
<text x="149.38" y="718.50" font-size="6.8" fill="#2b2b2b" text-anchor="middle" stroke="#2b2b2b" stroke-width="0.2" transform="translate(149.38,0) scale(0.9,1) translate(-149.38,0)">7</text>
<text x="164.80" y="718.50" font-size="6.8" fill="#2b2b2b" text-anchor="middle" stroke="#2b2b2b" stroke-width="0.2" transform="translate(164.80,0) scale(0.9,1) translate(-164.80,0)">6</text>
<text x="180.22" y="718.50" font-size="6.8" fill="#2b2b2b" text-anchor="middle" stroke="#2b2b2b" stroke-width="0.2" transform="translate(180.22,0) scale(0.9,1) translate(-180.22,0)">5</text>
<text x="195.64" y="718.50" font-size="6.8" fill="#2b2b2b" text-anchor="middle" stroke="#2b2b2b" stroke-width="0.2" transform="translate(195.64,0) scale(0.9,1) translate(-195.64,0)">5</text>
<text x="211.06" y="718.50" font-size="6.8" fill="#2b2b2b" text-anchor="middle" stroke="#2b2b2b" stroke-width="0.2" transform="translate(211.06,0) scale(0.9,1) translate(-211.06,0)">5</text>
<text x="226.48" y="718.50" font-size="6.8" fill="#2b2b2b" text-anchor="middle" stroke="#2b2b2b" stroke-width="0.2" transform="translate(226.48,0) scale(0.9,1) translate(-226.48,0)">5</text>
<text x="241.89" y="718.50" font-size="6.8" fill="#2b2b2b" text-anchor="middle" stroke="#2b2b2b" stroke-width="0.2" transform="translate(241.89,0) scale(0.9,1) translate(-241.89,0)">5</text>
<text x="257.31" y="718.50" font-size="6.8" fill="#2b2b2b" text-anchor="middle" stroke="#2b2b2b" stroke-width="0.2" transform="translate(257.31,0) scale(0.9,1) translate(-257.31,0)">4</text>
<text x="272.73" y="718.50" font-size="6.8" fill="#2b2b2b" text-anchor="middle" stroke="#2b2b2b" stroke-width="0.2" transform="translate(272.73,0) scale(0.9,1) translate(-272.73,0)">1</text>
<text x="288.15" y="718.50" font-size="6.8" fill="#2b2b2b" text-anchor="middle" stroke="#2b2b2b" stroke-width="0.2" transform="translate(288.15,0) scale(0.9,1) translate(-288.15,0)">1</text>
<text x="303.57" y="718.50" font-size="6.8" fill="#2b2b2b" text-anchor="middle" stroke="#2b2b2b" stroke-width="0.2" transform="translate(303.57,0) scale(0.9,1) translate(-303.57,0)">1</text>
<text x="318.99" y="718.50" font-size="6.8" fill="#2b2b2b" text-anchor="middle" stroke="#2b2b2b" stroke-width="0.2" transform="translate(318.99,0) scale(0.9,1) translate(-318.99,0)">1</text>
<text x="334.41" y="718.50" font-size="6.8" fill="#2b2b2b" text-anchor="middle" stroke="#2b2b2b" stroke-width="0.2" transform="translate(334.41,0) scale(0.9,1) translate(-334.41,0)">0</text>
<text x="349.83" y="718.50" font-size="6.8" fill="#2b2b2b" text-anchor="middle" stroke="#2b2b2b" stroke-width="0.2" transform="translate(349.83,0) scale(0.9,1) translate(-349.83,0)">0</text>
<text x="365.25" y="718.50" font-size="6.8" fill="#2b2b2b" text-anchor="middle" stroke="#2b2b2b" stroke-width="0.2" transform="translate(365.25,0) scale(0.9,1) translate(-365.25,0)">0</text>
<text x="378.60" y="576.90" font-size="6.6" fill="#1a1a1a" font-weight="bold" stroke="#1a1a1a" stroke-width="0.2">TTNT Probability</text>
<text x="490.00" y="576.90" font-size="6.6" fill="#1a1a1a" text-anchor="middle" font-weight="bold" stroke="#1a1a1a" stroke-width="0.2">% (95% CI)</text>
<line x1="377.9" y1="580.10" x2="510.6" y2="580.10" stroke="#3a3a3a" stroke-width="1.05"/>
<text x="378.60" y="586.80" font-size="6.7" fill="#2b2b2b" stroke="#2b2b2b" stroke-width="0.15">12 months, all patients</text>
<text x="490.00" y="586.80" font-size="6.6" fill="#2b2b2b" text-anchor="middle" stroke="#2b2b2b" stroke-width="0.15">79.6 (69.6-86.7)</text>
<text x="378.60" y="595.67" font-size="6.7" fill="#2b2b2b" stroke="#2b2b2b" stroke-width="0.15">24 months, all patients</text>
<text x="490.00" y="595.67" font-size="6.6" fill="#2b2b2b" text-anchor="middle" stroke="#2b2b2b" stroke-width="0.15">69.7 (58.7-78.3)</text>
<text x="378.60" y="604.54" font-size="6.7" fill="#2b2b2b" stroke="#2b2b2b" stroke-width="0.15">12 months, patients in CR</text>
<text x="490.00" y="604.54" font-size="6.6" fill="#2b2b2b" text-anchor="middle" stroke="#2b2b2b" stroke-width="0.15">95.1 (85.6-98.4)</text>
<text x="378.60" y="613.41" font-size="6.7" fill="#2b2b2b" stroke="#2b2b2b" stroke-width="0.15">24 months, patients in CR</text>
<text x="490.00" y="613.41" font-size="6.6" fill="#2b2b2b" text-anchor="middle" stroke="#2b2b2b" stroke-width="0.15">83.3 (71.2-90.7)</text>
<text x="378.20" y="629.70" font-size="6.6" fill="#2b2b2b" stroke="#2b2b2b" stroke-width="0.15">Kaplan-Meier medians</text>
<text x="378.2" y="636.50" font-size="6.6" fill="#2b2b2b" stroke="#2b2b2b" stroke-width="0.15"><tspan fill="#c64469" stroke="#c64469">All patients:</tspan> NE months, 95% CI [NE-NE]</text>
<text x="378.2" y="643.65" font-size="6.6" fill="#2b2b2b" stroke="#2b2b2b" stroke-width="0.15"><tspan fill="#486893" stroke="#486893">CR:</tspan> NE months, 95% CI [NE-NE]</text>
<text x="378.2" y="650.80" font-size="6.6" fill="#2b2b2b" stroke="#2b2b2b" stroke-width="0.15"><tspan fill="#cc9963" stroke="#cc9963">PR:</tspan> 10 months, 95% CI [6.1-NE]</text>
<path d="M87.70,568.10 L130.80,568.10 L130.80,575.50 L133.00,575.50 L133.00,580.90 L134.60,580.90 L134.60,584.70 L136.00,584.70 L136.00,591.60 L140.00,591.60 L140.00,599.30 L147.70,599.30 L147.70,605.90 L164.60,605.90 L164.60,613.90 L173.00,613.90 L173.00,620.90 L271.50,620.90 L271.50,633.10 L322.30,633.10" fill="none" stroke="#d49555" stroke-width="0.95" stroke-dasharray="1.7,1.65"/>
<path d="M87.70,568.10 L141.50,568.10 L141.50,569.60 L176.00,569.60 L176.00,572.70 L187.70,572.70 L187.70,575.50 L211.50,575.50 L211.50,578.60 L248.50,578.60 L248.50,583.10 L315.40,583.10 L315.40,586.60 L353.00,586.60" fill="none" stroke="#5276a6" stroke-width="1.15" stroke-dasharray="2.3,2.2"/>
<path d="M87.70,568.10 L117.00,568.10 L117.00,570.90 L120.80,570.90 L120.80,574.30 L130.80,574.30 L130.80,577.10 L134.00,577.10 L134.00,578.40 L137.00,578.40 L137.00,579.80 L148.50,579.80 L148.50,581.60 L164.60,581.60 L164.60,583.90 L175.40,583.90 L175.40,586.60 L187.70,586.60 L187.70,588.60 L209.20,588.60 L209.20,590.10 L216.00,590.10 L216.00,590.90 L237.00,590.90 L237.00,592.40 L248.50,592.40 L248.50,593.90 L267.00,593.90 L267.00,595.10 L315.40,595.10 L315.40,597.80 L353.00,597.80" fill="none" stroke="#c44266" stroke-width="1.0"/>
<rect x="133.25" y="583.35" width="2.7" height="2.7" fill="none" stroke="#b07a48" stroke-width="0.75"/>
<rect x="136.35" y="590.25" width="2.7" height="2.7" fill="none" stroke="#b07a48" stroke-width="0.75"/>
<rect x="244.65" y="619.55" width="2.7" height="2.7" fill="none" stroke="#b07a48" stroke-width="0.75"/>
<rect x="256.35" y="619.55" width="2.7" height="2.7" fill="none" stroke="#b07a48" stroke-width="0.75"/>
<rect x="320.95" y="631.75" width="2.7" height="2.7" fill="none" stroke="#b07a48" stroke-width="0.75"/>
<rect x="135.65" y="566.75" width="2.7" height="2.7" fill="none" stroke="#34547e" stroke-width="0.75"/>
<rect x="156.35" y="568.25" width="2.7" height="2.7" fill="none" stroke="#34547e" stroke-width="0.75"/>
<rect x="180.95" y="571.35" width="2.7" height="2.7" fill="none" stroke="#34547e" stroke-width="0.75"/>
<rect x="225.65" y="577.25" width="2.7" height="2.7" fill="none" stroke="#34547e" stroke-width="0.75"/>
<rect x="250.95" y="581.75" width="2.7" height="2.7" fill="none" stroke="#34547e" stroke-width="0.75"/>
<rect x="264.65" y="581.75" width="2.7" height="2.7" fill="none" stroke="#34547e" stroke-width="0.75"/>
<rect x="267.15" y="581.75" width="2.7" height="2.7" fill="none" stroke="#34547e" stroke-width="0.75"/>
<rect x="269.65" y="581.75" width="2.7" height="2.7" fill="none" stroke="#34547e" stroke-width="0.75"/>
<rect x="272.15" y="581.75" width="2.7" height="2.7" fill="none" stroke="#34547e" stroke-width="0.75"/>
<rect x="274.65" y="581.75" width="2.7" height="2.7" fill="none" stroke="#34547e" stroke-width="0.75"/>
<rect x="277.15" y="581.75" width="2.7" height="2.7" fill="none" stroke="#34547e" stroke-width="0.75"/>
<rect x="279.65" y="581.75" width="2.7" height="2.7" fill="none" stroke="#34547e" stroke-width="0.75"/>
<rect x="282.15" y="581.75" width="2.7" height="2.7" fill="none" stroke="#34547e" stroke-width="0.75"/>
<rect x="284.65" y="581.75" width="2.7" height="2.7" fill="none" stroke="#34547e" stroke-width="0.75"/>
<rect x="287.15" y="581.75" width="2.7" height="2.7" fill="none" stroke="#34547e" stroke-width="0.75"/>
<rect x="292.65" y="581.75" width="2.7" height="2.7" fill="none" stroke="#34547e" stroke-width="0.75"/>
<rect x="295.15" y="581.75" width="2.7" height="2.7" fill="none" stroke="#34547e" stroke-width="0.75"/>
<rect x="297.65" y="581.75" width="2.7" height="2.7" fill="none" stroke="#34547e" stroke-width="0.75"/>
<rect x="300.15" y="581.75" width="2.7" height="2.7" fill="none" stroke="#34547e" stroke-width="0.75"/>
<rect x="304.65" y="581.75" width="2.7" height="2.7" fill="none" stroke="#34547e" stroke-width="0.75"/>
<rect x="306.65" y="581.75" width="2.7" height="2.7" fill="none" stroke="#34547e" stroke-width="0.75"/>
<rect x="308.65" y="581.75" width="2.7" height="2.7" fill="none" stroke="#34547e" stroke-width="0.75"/>
<rect x="314.15" y="585.25" width="2.7" height="2.7" fill="none" stroke="#34547e" stroke-width="0.75"/>
<rect x="315.65" y="585.25" width="2.7" height="2.7" fill="none" stroke="#34547e" stroke-width="0.75"/>
<rect x="317.15" y="585.25" width="2.7" height="2.7" fill="none" stroke="#34547e" stroke-width="0.75"/>
<rect x="318.65" y="585.25" width="2.7" height="2.7" fill="none" stroke="#34547e" stroke-width="0.75"/>
<rect x="320.15" y="585.25" width="2.7" height="2.7" fill="none" stroke="#34547e" stroke-width="0.75"/>
<rect x="320.65" y="585.25" width="2.7" height="2.7" fill="none" stroke="#34547e" stroke-width="0.75"/>
<rect x="323.15" y="585.25" width="2.7" height="2.7" fill="none" stroke="#34547e" stroke-width="0.75"/>
<rect x="325.65" y="585.25" width="2.7" height="2.7" fill="none" stroke="#34547e" stroke-width="0.75"/>
<rect x="328.15" y="585.25" width="2.7" height="2.7" fill="none" stroke="#34547e" stroke-width="0.75"/>
<rect x="330.65" y="585.25" width="2.7" height="2.7" fill="none" stroke="#34547e" stroke-width="0.75"/>
<rect x="341.65" y="585.25" width="2.7" height="2.7" fill="none" stroke="#34547e" stroke-width="0.75"/>
<rect x="343.15" y="585.25" width="2.7" height="2.7" fill="none" stroke="#34547e" stroke-width="0.75"/>
<rect x="344.65" y="585.25" width="2.7" height="2.7" fill="none" stroke="#34547e" stroke-width="0.75"/>
<rect x="351.65" y="585.25" width="2.7" height="2.7" fill="none" stroke="#34547e" stroke-width="0.75"/>
<rect x="100.95" y="566.75" width="2.7" height="2.7" fill="none" stroke="#aa3050" stroke-width="0.75"/>
<rect x="107.85" y="566.75" width="2.7" height="2.7" fill="none" stroke="#aa3050" stroke-width="0.75"/>
<rect x="124.05" y="572.95" width="2.7" height="2.7" fill="none" stroke="#aa3050" stroke-width="0.75"/>
<rect x="131.65" y="575.75" width="2.7" height="2.7" fill="none" stroke="#aa3050" stroke-width="0.75"/>
<rect x="133.15" y="577.05" width="2.7" height="2.7" fill="none" stroke="#aa3050" stroke-width="0.75"/>
<rect x="134.65" y="577.05" width="2.7" height="2.7" fill="none" stroke="#aa3050" stroke-width="0.75"/>
<rect x="156.35" y="580.25" width="2.7" height="2.7" fill="none" stroke="#aa3050" stroke-width="0.75"/>
<rect x="180.95" y="585.25" width="2.7" height="2.7" fill="none" stroke="#aa3050" stroke-width="0.75"/>
<rect x="225.65" y="589.55" width="2.7" height="2.7" fill="none" stroke="#aa3050" stroke-width="0.75"/>
<rect x="244.65" y="591.05" width="2.7" height="2.7" fill="none" stroke="#aa3050" stroke-width="0.75"/>
<rect x="250.95" y="592.55" width="2.7" height="2.7" fill="none" stroke="#aa3050" stroke-width="0.75"/>
<rect x="253.45" y="592.55" width="2.7" height="2.7" fill="none" stroke="#aa3050" stroke-width="0.75"/>
<rect x="255.95" y="592.55" width="2.7" height="2.7" fill="none" stroke="#aa3050" stroke-width="0.75"/>
<rect x="258.45" y="592.55" width="2.7" height="2.7" fill="none" stroke="#aa3050" stroke-width="0.75"/>
<rect x="264.65" y="592.55" width="2.7" height="2.7" fill="none" stroke="#aa3050" stroke-width="0.75"/>
<rect x="266.15" y="593.75" width="2.7" height="2.7" fill="none" stroke="#aa3050" stroke-width="0.75"/>
<rect x="267.65" y="593.75" width="2.7" height="2.7" fill="none" stroke="#aa3050" stroke-width="0.75"/>
<rect x="269.15" y="593.75" width="2.7" height="2.7" fill="none" stroke="#aa3050" stroke-width="0.75"/>
<rect x="270.65" y="593.75" width="2.7" height="2.7" fill="none" stroke="#aa3050" stroke-width="0.75"/>
<rect x="270.65" y="593.75" width="2.7" height="2.7" fill="none" stroke="#aa3050" stroke-width="0.75"/>
<rect x="273.15" y="593.75" width="2.7" height="2.7" fill="none" stroke="#aa3050" stroke-width="0.75"/>
<rect x="275.65" y="593.75" width="2.7" height="2.7" fill="none" stroke="#aa3050" stroke-width="0.75"/>
<rect x="278.15" y="593.75" width="2.7" height="2.7" fill="none" stroke="#aa3050" stroke-width="0.75"/>
<rect x="280.65" y="593.75" width="2.7" height="2.7" fill="none" stroke="#aa3050" stroke-width="0.75"/>
<rect x="283.15" y="593.75" width="2.7" height="2.7" fill="none" stroke="#aa3050" stroke-width="0.75"/>
<rect x="285.65" y="593.75" width="2.7" height="2.7" fill="none" stroke="#aa3050" stroke-width="0.75"/>
<rect x="292.65" y="593.75" width="2.7" height="2.7" fill="none" stroke="#aa3050" stroke-width="0.75"/>
<rect x="295.15" y="593.75" width="2.7" height="2.7" fill="none" stroke="#aa3050" stroke-width="0.75"/>
<rect x="297.65" y="593.75" width="2.7" height="2.7" fill="none" stroke="#aa3050" stroke-width="0.75"/>
<rect x="300.15" y="593.75" width="2.7" height="2.7" fill="none" stroke="#aa3050" stroke-width="0.75"/>
<rect x="302.65" y="593.75" width="2.7" height="2.7" fill="none" stroke="#aa3050" stroke-width="0.75"/>
<rect x="304.65" y="593.75" width="2.7" height="2.7" fill="none" stroke="#aa3050" stroke-width="0.75"/>
<rect x="306.65" y="593.75" width="2.7" height="2.7" fill="none" stroke="#aa3050" stroke-width="0.75"/>
<rect x="308.65" y="593.75" width="2.7" height="2.7" fill="none" stroke="#aa3050" stroke-width="0.75"/>
<rect x="314.15" y="596.45" width="2.7" height="2.7" fill="none" stroke="#aa3050" stroke-width="0.75"/>
<rect x="315.65" y="596.45" width="2.7" height="2.7" fill="none" stroke="#aa3050" stroke-width="0.75"/>
<rect x="317.15" y="596.45" width="2.7" height="2.7" fill="none" stroke="#aa3050" stroke-width="0.75"/>
<rect x="318.65" y="596.45" width="2.7" height="2.7" fill="none" stroke="#aa3050" stroke-width="0.75"/>
<rect x="320.15" y="596.45" width="2.7" height="2.7" fill="none" stroke="#aa3050" stroke-width="0.75"/>
<rect x="320.65" y="596.45" width="2.7" height="2.7" fill="none" stroke="#aa3050" stroke-width="0.75"/>
<rect x="323.15" y="596.45" width="2.7" height="2.7" fill="none" stroke="#aa3050" stroke-width="0.75"/>
<rect x="325.65" y="596.45" width="2.7" height="2.7" fill="none" stroke="#aa3050" stroke-width="0.75"/>
<rect x="328.15" y="596.45" width="2.7" height="2.7" fill="none" stroke="#aa3050" stroke-width="0.75"/>
<rect x="330.65" y="596.45" width="2.7" height="2.7" fill="none" stroke="#aa3050" stroke-width="0.75"/>
<rect x="341.65" y="596.45" width="2.7" height="2.7" fill="none" stroke="#aa3050" stroke-width="0.75"/>
<rect x="343.15" y="596.45" width="2.7" height="2.7" fill="none" stroke="#aa3050" stroke-width="0.75"/>
<rect x="344.65" y="596.45" width="2.7" height="2.7" fill="none" stroke="#aa3050" stroke-width="0.75"/>
<rect x="351.65" y="596.45" width="2.7" height="2.7" fill="none" stroke="#aa3050" stroke-width="0.75"/>
<rect x="0" y="0" width="520" height="1" fill="#5a5a5a"/>
<rect x="0" y="0" width="1" height="727" fill="#5a5a5a"/>
<rect x="518" y="0" width="1" height="727" fill="#e6e6e6"/>
<rect x="519" y="0" width="1" height="727" fill="#4a4a4a"/>
<rect x="0" y="725" width="520" height="1" fill="#e6e6e6"/>
<rect x="0" y="726" width="520" height="1" fill="#4a4a4a"/>
</svg></body></html>
